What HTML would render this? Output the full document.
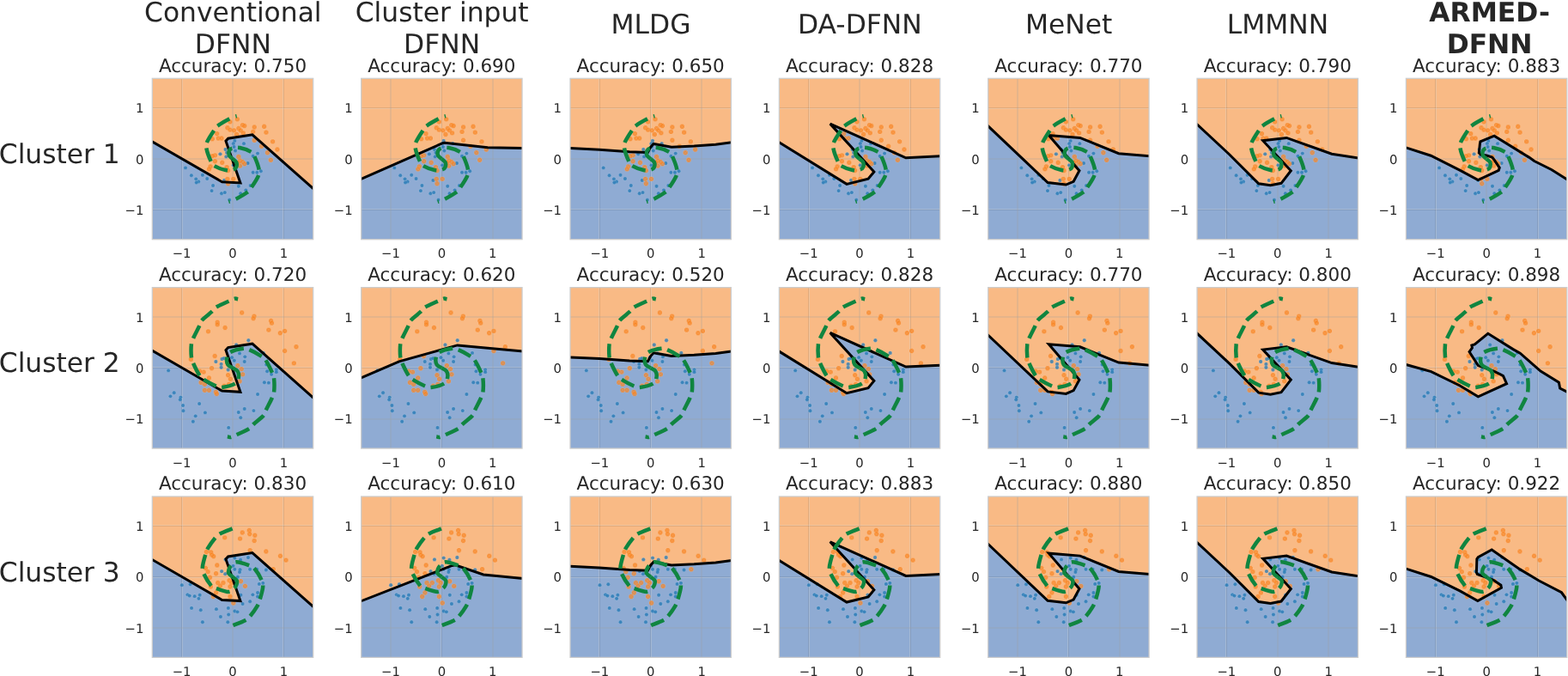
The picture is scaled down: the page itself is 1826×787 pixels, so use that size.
<!DOCTYPE html><html><head><meta charset="utf-8"><title>Decision boundaries</title><style>html,body{margin:0;padding:0;background:#fff;overflow:hidden;}svg{display:block;}.sb{fill:#1f77b4;fill-opacity:.75;stroke:#fff;stroke-opacity:.3;stroke-width:.5}.so{fill:#f8801a;fill-opacity:.7;stroke:#fff;stroke-opacity:.18;stroke-width:.6}text{font-family:"DejaVu Sans","Liberation Sans",sans-serif;fill:#262626;text-rendering:geometricPrecision;}</style></head><body>
<svg width="1826" height="787" viewBox="0 0 1826 787">
<rect width="1826" height="787" fill="#fff"/>
<defs>
<path id="mx" d="M-1.3,-2.7 L1.3,-2.7 L2.7,-1.3 L2.7,1.3 L1.3,2.7 L-1.3,2.7 L-2.7,1.3 L-2.7,-1.3 Z M-2.1,-2.1 L-0.3,-0.3 M2.1,-2.1 L0.3,-0.3 M-2.1,2.1 L-0.3,0.3 M2.1,2.1 L0.3,0.3"/>
<circle id="mo" r="2.2"/>
<clipPath id="k00"><rect x="177.3" y="91.3" width="187.4" height="187.4"/></clipPath>
<clipPath id="k01"><rect x="420.65" y="91.3" width="187.4" height="187.4"/></clipPath>
<clipPath id="k02"><rect x="664" y="91.3" width="187.4" height="187.4"/></clipPath>
<clipPath id="k03"><rect x="907.35" y="91.3" width="187.4" height="187.4"/></clipPath>
<clipPath id="k04"><rect x="1150.7" y="91.3" width="187.4" height="187.4"/></clipPath>
<clipPath id="k05"><rect x="1394.05" y="91.3" width="187.4" height="187.4"/></clipPath>
<clipPath id="k06"><rect x="1637.4" y="91.3" width="187.4" height="187.4"/></clipPath>
<clipPath id="k10"><rect x="177.3" y="334.65" width="187.4" height="187.4"/></clipPath>
<clipPath id="k11"><rect x="420.65" y="334.65" width="187.4" height="187.4"/></clipPath>
<clipPath id="k12"><rect x="664" y="334.65" width="187.4" height="187.4"/></clipPath>
<clipPath id="k13"><rect x="907.35" y="334.65" width="187.4" height="187.4"/></clipPath>
<clipPath id="k14"><rect x="1150.7" y="334.65" width="187.4" height="187.4"/></clipPath>
<clipPath id="k15"><rect x="1394.05" y="334.65" width="187.4" height="187.4"/></clipPath>
<clipPath id="k16"><rect x="1637.4" y="334.65" width="187.4" height="187.4"/></clipPath>
<clipPath id="k20"><rect x="177.3" y="578" width="187.4" height="187.4"/></clipPath>
<clipPath id="k21"><rect x="420.65" y="578" width="187.4" height="187.4"/></clipPath>
<clipPath id="k22"><rect x="664" y="578" width="187.4" height="187.4"/></clipPath>
<clipPath id="k23"><rect x="907.35" y="578" width="187.4" height="187.4"/></clipPath>
<clipPath id="k24"><rect x="1150.7" y="578" width="187.4" height="187.4"/></clipPath>
<clipPath id="k25"><rect x="1394.05" y="578" width="187.4" height="187.4"/></clipPath>
<clipPath id="k26"><rect x="1637.4" y="578" width="187.4" height="187.4"/></clipPath>
</defs>
<text x="271.3" y="25" font-size="31.35" text-anchor="middle">Conventional</text>
<text x="271.3" y="61.9" font-size="31.35" text-anchor="middle">DFNN</text>
<text x="514.65" y="25" font-size="31.35" text-anchor="middle">Cluster input</text>
<text x="514.65" y="61.9" font-size="31.35" text-anchor="middle">DFNN</text>
<text x="758" y="39.1" font-size="31.35" text-anchor="middle">MLDG</text>
<text x="1001.35" y="39.1" font-size="31.35" text-anchor="middle">DA-DFNN</text>
<text x="1244.7" y="39.1" font-size="31.35" text-anchor="middle">MeNet</text>
<text x="1488.05" y="39.1" font-size="31.35" text-anchor="middle">LMMNN</text>
<text x="1734.6" y="25" font-size="31.35" text-anchor="middle" font-weight="bold">ARMED-</text>
<text x="1734.6" y="61.9" font-size="31.35" text-anchor="middle" font-weight="bold">DFNN</text>
<text x="-1.2" y="190.1" font-size="31.3">Cluster 1</text>
<text x="-1.2" y="433.45" font-size="31.3">Cluster 2</text>
<text x="-1.2" y="676.8" font-size="31.3">Cluster 3</text>
<text x="271" y="83.5" font-size="21.5" text-anchor="middle">Accuracy: 0.750</text>
<g clip-path="url(#k00)">
<rect x="177.3" y="91.3" width="187.4" height="187.4" fill="#f9ba85"/>
<polygon points="170.02,160.65 258.53,211.73 279.91,212.92 262.98,164.21 265.65,161.24 293.87,156.84 371.98,225.99 369.7,283.7 172.3,283.7" fill="#8fabd3"/>
<path d="M211.5,91.3V278.7M177.3,244.5H364.7M330.5,91.3V278.7M177.3,125.5H364.7" stroke="#3c3c3c" stroke-opacity="0.12" stroke-width="1" fill="none"/>
<path d="M212.5,91.3V278.7M177.3,243.5H364.7M329.5,91.3V278.7M177.3,126.5H364.7" stroke="#d7d7d7" stroke-opacity="0.3" stroke-width="1" fill="none"/>
<path d="M270.5,91.3V278.7M271.5,91.3V278.7M177.3,184.5H364.7M177.3,185.5H364.7" stroke="#a0a0a0" stroke-opacity="0.22" stroke-width="1" fill="none"/>
<g class="sb"><use href="#mo" x="273.29" y="164.07"/><use href="#mo" x="271.77" y="167.13"/><use href="#mo" x="283.98" y="167.13"/><use href="#mo" x="272.53" y="170.95"/><use href="#mo" x="274.05" y="175.53"/><use href="#mo" x="262.59" y="174"/><use href="#mo" x="256.49" y="179.35"/><use href="#mo" x="264.13" y="177.82"/><use href="#mo" x="263.36" y="182.4"/><use href="#mo" x="300.03" y="178.58"/><use href="#mo" x="294.68" y="181.64"/><use href="#mo" x="288.57" y="190.04"/><use href="#mo" x="271.77" y="192.34"/><use href="#mo" x="294.68" y="200.74"/><use href="#mo" x="299.26" y="200.74"/><use href="#mo" x="303.85" y="199.21"/><use href="#mo" x="216" y="195.39"/><use href="#mo" x="222.87" y="204.25"/><use href="#mo" x="235.86" y="203.79"/><use href="#mo" x="228.22" y="208.37"/><use href="#mo" x="231.28" y="211.43"/><use href="#mo" x="228.68" y="212.5"/><use href="#mo" x="241.21" y="208.07"/><use href="#mo" x="248.08" y="216.01"/><use href="#mo" x="246.56" y="222.12"/><use href="#mo" x="258.02" y="225.18"/><use href="#mo" x="261.83" y="224.11"/><use href="#mo" x="277.87" y="216.78"/><use href="#mo" x="286.28" y="221.36"/><use href="#mo" x="280.17" y="225.18"/><use href="#mo" x="291.62" y="216.01"/><use href="#mo" x="267.18" y="232.82"/><use href="#mo" x="261.07" y="209.9"/></g>
<g class="so"><use href="#mx" x="276.35" y="138.86"/><use href="#mx" x="267.95" y="141.92"/><use href="#mx" x="282.46" y="145.74"/><use href="#mx" x="284.75" y="146.5"/><use href="#mx" x="264.89" y="148.79"/><use href="#mx" x="267.95" y="151.08"/><use href="#mx" x="272.53" y="151.85"/><use href="#mx" x="277.87" y="149.56"/><use href="#mx" x="280.17" y="151.85"/><use href="#mx" x="283.22" y="154.9"/><use href="#mx" x="275.59" y="156.43"/><use href="#mx" x="296.21" y="148.03"/><use href="#mx" x="294.68" y="153.38"/><use href="#mx" x="307.67" y="147.26"/><use href="#mx" x="309.96" y="154.14"/><use href="#mx" x="252.67" y="155.67"/><use href="#mx" x="254.2" y="161.01"/><use href="#mx" x="258.02" y="161.01"/><use href="#mx" x="247.32" y="161.78"/><use href="#mx" x="296.21" y="163.31"/><use href="#mx" x="317.6" y="164.83"/><use href="#mx" x="304.61" y="170.18"/><use href="#mx" x="322.95" y="174"/><use href="#mx" x="311.49" y="177.82"/><use href="#mx" x="315.31" y="186.22"/><use href="#mx" x="250.38" y="180.88"/><use href="#mx" x="277.87" y="182.4"/><use href="#mx" x="279.41" y="186.98"/><use href="#mx" x="282.46" y="188.52"/><use href="#mx" x="284.75" y="190.8"/><use href="#mx" x="250.38" y="187.75"/><use href="#mx" x="258.78" y="189.28"/><use href="#mx" x="245.03" y="193.86"/><use href="#mx" x="243.5" y="196.92"/><use href="#mx" x="264.13" y="194.62"/><use href="#mx" x="265.65" y="198.44"/><use href="#mx" x="279.41" y="193.1"/><use href="#mx" x="277.11" y="189.28"/><use href="#mx" x="264.89" y="208.37"/><use href="#mx" x="271.77" y="208.37"/><use href="#mx" x="265.65" y="213.72"/><use href="#mx" x="247.32" y="181.64"/></g>
<polyline points="170.02,160.65 258.53,211.73 279.91,212.92 262.98,164.21 265.65,161.24 293.87,156.84 371.98,225.99" fill="none" stroke="#000" stroke-width="3" stroke-linejoin="miter"/>
<path d="M271,185 C271.7,185.66 274.51,187.43 275.22,188.98 C275.92,190.53 275.8,192.91 275.22,194.33 C274.63,195.74 273.78,196.87 271.71,197.47 C269.64,198.08 266.53,198.69 262.8,197.95 C259.08,197.21 252.29,194.81 249.38,193.02 C246.47,191.23 246.82,190.53 245.34,187.2 C243.85,183.86 241.14,176.7 240.47,173 C239.8,169.3 239.81,168.56 241.3,164.98 C242.79,161.41 247.28,154.69 249.38,151.56 C251.48,148.43 250.83,148.46 253.89,146.21 C256.95,143.96 264.88,139.5 267.73,138.07 C270.58,136.65 270.46,137.73 271,137.66" fill="none" stroke="#108540" stroke-width="4.5" stroke-dasharray="16.1 6.93"/>
<path d="M271,185 C270.3,184.34 267.49,182.57 266.78,181.02 C266.08,179.47 266.2,177.09 266.78,175.67 C267.37,174.26 268.22,173.13 270.29,172.53 C272.36,171.92 275.47,171.31 279.2,172.05 C282.92,172.79 289.71,175.19 292.62,176.98 C295.53,178.77 295.18,179.47 296.66,182.8 C298.15,186.14 300.86,193.3 301.53,197 C302.2,200.7 302.19,201.44 300.7,205.02 C299.21,208.59 294.72,215.31 292.62,218.44 C290.52,221.57 291.17,221.54 288.11,223.79 C285.05,226.04 277.12,230.5 274.27,231.93 C271.42,233.35 271.54,232.27 271,232.34" fill="none" stroke="#108540" stroke-width="4.5" stroke-dasharray="16.1 6.93"/>
<line x1="275.51" y1="137.3" x2="274.5" y2="133.2" stroke="#108540" stroke-width="1.4"/>
<line x1="266.49" y1="232.7" x2="267.5" y2="236.8" stroke="#108540" stroke-width="1.4"/>
</g>
<rect x="177.3" y="91.3" width="187.4" height="187.4" fill="none" stroke="#cccccc" stroke-width="1.25"/>
<text x="211.6" y="300.2" font-size="14.8" text-anchor="middle">−1</text>
<text x="167.3" y="250.1" font-size="14.8" text-anchor="end">−1</text>
<text x="271" y="300.2" font-size="14.8" text-anchor="middle">0</text>
<text x="167.3" y="190.7" font-size="14.8" text-anchor="end">0</text>
<text x="330.4" y="300.2" font-size="14.8" text-anchor="middle">1</text>
<text x="167.3" y="131.3" font-size="14.8" text-anchor="end">1</text>
<text x="514.35" y="83.5" font-size="21.5" text-anchor="middle">Accuracy: 0.690</text>
<g clip-path="url(#k01)">
<rect x="420.65" y="91.3" width="187.4" height="187.4" fill="#f9ba85"/>
<polygon points="413.37,211.43 515.36,166.7 517.85,166.23 567.99,171.69 615.33,172.64 613.05,283.7 415.65,283.7" fill="#8fabd3"/>
<path d="M420.65,244.5H608.05M514.5,91.3V278.7M420.65,125.5H608.05" stroke="#3c3c3c" stroke-opacity="0.12" stroke-width="1" fill="none"/>
<path d="M420.65,243.5H608.05M513.5,91.3V278.7M420.65,126.5H608.05" stroke="#d7d7d7" stroke-opacity="0.3" stroke-width="1" fill="none"/>
<path d="M454.5,91.3V278.7M455.5,91.3V278.7M420.65,184.5H608.05M420.65,185.5H608.05M573.5,91.3V278.7M574.5,91.3V278.7" stroke="#a0a0a0" stroke-opacity="0.22" stroke-width="1" fill="none"/>
<g class="sb"><use href="#mo" x="516.64" y="164.07"/><use href="#mo" x="515.12" y="167.13"/><use href="#mo" x="527.33" y="167.13"/><use href="#mo" x="515.88" y="170.95"/><use href="#mo" x="517.4" y="175.53"/><use href="#mo" x="505.94" y="174"/><use href="#mo" x="499.84" y="179.35"/><use href="#mo" x="507.48" y="177.82"/><use href="#mo" x="506.71" y="182.4"/><use href="#mo" x="543.38" y="178.58"/><use href="#mo" x="538.03" y="181.64"/><use href="#mo" x="531.92" y="190.04"/><use href="#mo" x="515.12" y="192.34"/><use href="#mo" x="538.03" y="200.74"/><use href="#mo" x="542.61" y="200.74"/><use href="#mo" x="547.2" y="199.21"/><use href="#mo" x="459.35" y="195.39"/><use href="#mo" x="466.22" y="204.25"/><use href="#mo" x="479.21" y="203.79"/><use href="#mo" x="471.57" y="208.37"/><use href="#mo" x="474.63" y="211.43"/><use href="#mo" x="472.03" y="212.5"/><use href="#mo" x="484.56" y="208.07"/><use href="#mo" x="491.43" y="216.01"/><use href="#mo" x="489.91" y="222.12"/><use href="#mo" x="501.37" y="225.18"/><use href="#mo" x="505.18" y="224.11"/><use href="#mo" x="521.22" y="216.78"/><use href="#mo" x="529.63" y="221.36"/><use href="#mo" x="523.52" y="225.18"/><use href="#mo" x="534.97" y="216.01"/><use href="#mo" x="510.53" y="232.82"/><use href="#mo" x="504.42" y="209.9"/></g>
<g class="so"><use href="#mx" x="519.7" y="138.86"/><use href="#mx" x="511.3" y="141.92"/><use href="#mx" x="525.81" y="145.74"/><use href="#mx" x="528.1" y="146.5"/><use href="#mx" x="508.24" y="148.79"/><use href="#mx" x="511.3" y="151.08"/><use href="#mx" x="515.88" y="151.85"/><use href="#mx" x="521.22" y="149.56"/><use href="#mx" x="523.52" y="151.85"/><use href="#mx" x="526.57" y="154.9"/><use href="#mx" x="518.94" y="156.43"/><use href="#mx" x="539.56" y="148.03"/><use href="#mx" x="538.03" y="153.38"/><use href="#mx" x="551.02" y="147.26"/><use href="#mx" x="553.31" y="154.14"/><use href="#mx" x="496.02" y="155.67"/><use href="#mx" x="497.55" y="161.01"/><use href="#mx" x="501.37" y="161.01"/><use href="#mx" x="490.67" y="161.78"/><use href="#mx" x="539.56" y="163.31"/><use href="#mx" x="560.95" y="164.83"/><use href="#mx" x="547.96" y="170.18"/><use href="#mx" x="566.3" y="174"/><use href="#mx" x="554.84" y="177.82"/><use href="#mx" x="558.66" y="186.22"/><use href="#mx" x="493.73" y="180.88"/><use href="#mx" x="521.22" y="182.4"/><use href="#mx" x="522.76" y="186.98"/><use href="#mx" x="525.81" y="188.52"/><use href="#mx" x="528.1" y="190.8"/><use href="#mx" x="493.73" y="187.75"/><use href="#mx" x="502.13" y="189.28"/><use href="#mx" x="488.38" y="193.86"/><use href="#mx" x="486.85" y="196.92"/><use href="#mx" x="507.48" y="194.62"/><use href="#mx" x="509" y="198.44"/><use href="#mx" x="522.76" y="193.1"/><use href="#mx" x="520.46" y="189.28"/><use href="#mx" x="508.24" y="208.37"/><use href="#mx" x="515.12" y="208.37"/><use href="#mx" x="509" y="213.72"/><use href="#mx" x="490.67" y="181.64"/></g>
<polyline points="413.37,211.43 515.36,166.7 517.85,166.23 567.99,171.69 615.33,172.64" fill="none" stroke="#000" stroke-width="3" stroke-linejoin="miter"/>
<path d="M514.35,185 C515.05,185.66 517.86,187.43 518.57,188.98 C519.27,190.53 519.15,192.91 518.57,194.33 C517.98,195.74 517.13,196.87 515.06,197.47 C512.99,198.08 509.88,198.69 506.15,197.95 C502.43,197.21 495.64,194.81 492.73,193.02 C489.82,191.23 490.17,190.53 488.69,187.2 C487.2,183.86 484.49,176.7 483.82,173 C483.15,169.3 483.17,168.56 484.65,164.98 C486.14,161.41 490.63,154.69 492.73,151.56 C494.83,148.43 494.18,148.46 497.24,146.21 C500.3,143.96 508.23,139.5 511.08,138.07 C513.93,136.65 513.81,137.73 514.35,137.66" fill="none" stroke="#108540" stroke-width="4.5" stroke-dasharray="16.1 6.93"/>
<path d="M514.35,185 C513.65,184.34 510.84,182.57 510.13,181.02 C509.43,179.47 509.55,177.09 510.13,175.67 C510.72,174.26 511.57,173.13 513.64,172.53 C515.71,171.92 518.82,171.31 522.55,172.05 C526.27,172.79 533.06,175.19 535.97,176.98 C538.88,178.77 538.53,179.47 540.01,182.8 C541.5,186.14 544.21,193.3 544.88,197 C545.55,200.7 545.54,201.44 544.05,205.02 C542.57,208.59 538.07,215.31 535.97,218.44 C533.87,221.57 534.52,221.54 531.46,223.79 C528.4,226.04 520.47,230.5 517.62,231.93 C514.77,233.35 514.89,232.27 514.35,232.34" fill="none" stroke="#108540" stroke-width="4.5" stroke-dasharray="16.1 6.93"/>
<line x1="518.86" y1="137.3" x2="517.85" y2="133.2" stroke="#108540" stroke-width="1.4"/>
<line x1="509.84" y1="232.7" x2="510.85" y2="236.8" stroke="#108540" stroke-width="1.4"/>
</g>
<rect x="420.65" y="91.3" width="187.4" height="187.4" fill="none" stroke="#cccccc" stroke-width="1.25"/>
<text x="454.95" y="300.2" font-size="14.8" text-anchor="middle">−1</text>
<text x="410.65" y="250.1" font-size="14.8" text-anchor="end">−1</text>
<text x="514.35" y="300.2" font-size="14.8" text-anchor="middle">0</text>
<text x="410.65" y="190.7" font-size="14.8" text-anchor="end">0</text>
<text x="573.75" y="300.2" font-size="14.8" text-anchor="middle">1</text>
<text x="410.65" y="131.3" font-size="14.8" text-anchor="end">1</text>
<text x="757.7" y="83.5" font-size="21.5" text-anchor="middle">Accuracy: 0.650</text>
<g clip-path="url(#k02)">
<rect x="664" y="91.3" width="187.4" height="187.4" fill="#f9ba85"/>
<polygon points="656.72,172.23 698.06,174.25 733.11,176.74 754.43,177.46 757.7,171.22 761.2,167.48 768.21,168.72 781.99,171.22 808.31,169.97 833.38,168.19 858.68,164.8 856.4,283.7 659,283.7" fill="#8fabd3"/>
<path d="M698.5,91.3V278.7M664,244.5H851.4M757.5,91.3V278.7M664,125.5H851.4" stroke="#3c3c3c" stroke-opacity="0.12" stroke-width="1" fill="none"/>
<path d="M697.5,91.3V278.7M664,243.5H851.4M758.5,91.3V278.7M664,126.5H851.4" stroke="#d7d7d7" stroke-opacity="0.3" stroke-width="1" fill="none"/>
<path d="M664,184.5H851.4M664,185.5H851.4M816.5,91.3V278.7M817.5,91.3V278.7" stroke="#a0a0a0" stroke-opacity="0.22" stroke-width="1" fill="none"/>
<g class="sb"><use href="#mo" x="759.99" y="164.07"/><use href="#mo" x="758.47" y="167.13"/><use href="#mo" x="770.68" y="167.13"/><use href="#mo" x="759.23" y="170.95"/><use href="#mo" x="760.75" y="175.53"/><use href="#mo" x="749.29" y="174"/><use href="#mo" x="743.19" y="179.35"/><use href="#mo" x="750.83" y="177.82"/><use href="#mo" x="750.06" y="182.4"/><use href="#mo" x="786.73" y="178.58"/><use href="#mo" x="781.38" y="181.64"/><use href="#mo" x="775.27" y="190.04"/><use href="#mo" x="758.47" y="192.34"/><use href="#mo" x="781.38" y="200.74"/><use href="#mo" x="785.96" y="200.74"/><use href="#mo" x="790.55" y="199.21"/><use href="#mo" x="702.7" y="195.39"/><use href="#mo" x="709.57" y="204.25"/><use href="#mo" x="722.56" y="203.79"/><use href="#mo" x="714.92" y="208.37"/><use href="#mo" x="717.98" y="211.43"/><use href="#mo" x="715.38" y="212.5"/><use href="#mo" x="727.91" y="208.07"/><use href="#mo" x="734.78" y="216.01"/><use href="#mo" x="733.26" y="222.12"/><use href="#mo" x="744.72" y="225.18"/><use href="#mo" x="748.53" y="224.11"/><use href="#mo" x="764.57" y="216.78"/><use href="#mo" x="772.98" y="221.36"/><use href="#mo" x="766.87" y="225.18"/><use href="#mo" x="778.32" y="216.01"/><use href="#mo" x="753.88" y="232.82"/><use href="#mo" x="747.77" y="209.9"/></g>
<g class="so"><use href="#mx" x="763.05" y="138.86"/><use href="#mx" x="754.65" y="141.92"/><use href="#mx" x="769.16" y="145.74"/><use href="#mx" x="771.45" y="146.5"/><use href="#mx" x="751.59" y="148.79"/><use href="#mx" x="754.65" y="151.08"/><use href="#mx" x="759.23" y="151.85"/><use href="#mx" x="764.57" y="149.56"/><use href="#mx" x="766.87" y="151.85"/><use href="#mx" x="769.92" y="154.9"/><use href="#mx" x="762.29" y="156.43"/><use href="#mx" x="782.91" y="148.03"/><use href="#mx" x="781.38" y="153.38"/><use href="#mx" x="794.37" y="147.26"/><use href="#mx" x="796.66" y="154.14"/><use href="#mx" x="739.37" y="155.67"/><use href="#mx" x="740.9" y="161.01"/><use href="#mx" x="744.72" y="161.01"/><use href="#mx" x="734.02" y="161.78"/><use href="#mx" x="782.91" y="163.31"/><use href="#mx" x="804.3" y="164.83"/><use href="#mx" x="791.31" y="170.18"/><use href="#mx" x="809.65" y="174"/><use href="#mx" x="798.19" y="177.82"/><use href="#mx" x="802.01" y="186.22"/><use href="#mx" x="737.08" y="180.88"/><use href="#mx" x="764.57" y="182.4"/><use href="#mx" x="766.11" y="186.98"/><use href="#mx" x="769.16" y="188.52"/><use href="#mx" x="771.45" y="190.8"/><use href="#mx" x="737.08" y="187.75"/><use href="#mx" x="745.48" y="189.28"/><use href="#mx" x="731.73" y="193.86"/><use href="#mx" x="730.2" y="196.92"/><use href="#mx" x="750.83" y="194.62"/><use href="#mx" x="752.35" y="198.44"/><use href="#mx" x="766.11" y="193.1"/><use href="#mx" x="763.81" y="189.28"/><use href="#mx" x="751.59" y="208.37"/><use href="#mx" x="758.47" y="208.37"/><use href="#mx" x="752.35" y="213.72"/><use href="#mx" x="734.02" y="181.64"/></g>
<polyline points="656.72,172.23 698.06,174.25 733.11,176.74 754.43,177.46 757.7,171.22 761.2,167.48 768.21,168.72 781.99,171.22 808.31,169.97 833.38,168.19 858.68,164.8" fill="none" stroke="#000" stroke-width="3" stroke-linejoin="miter"/>
<path d="M757.7,185 C758.4,185.66 761.21,187.43 761.92,188.98 C762.62,190.53 762.5,192.91 761.92,194.33 C761.33,195.74 760.48,196.87 758.41,197.47 C756.34,198.08 753.23,198.69 749.5,197.95 C745.78,197.21 738.99,194.81 736.08,193.02 C733.17,191.23 733.52,190.53 732.04,187.2 C730.55,183.86 727.84,176.7 727.17,173 C726.5,169.3 726.51,168.56 728,164.98 C729.49,161.41 733.98,154.69 736.08,151.56 C738.18,148.43 737.53,148.46 740.59,146.21 C743.65,143.96 751.58,139.5 754.43,138.07 C757.28,136.65 757.16,137.73 757.7,137.66" fill="none" stroke="#108540" stroke-width="4.5" stroke-dasharray="16.1 6.93"/>
<path d="M757.7,185 C757,184.34 754.19,182.57 753.48,181.02 C752.78,179.47 752.9,177.09 753.48,175.67 C754.07,174.26 754.92,173.13 756.99,172.53 C759.06,171.92 762.17,171.31 765.9,172.05 C769.62,172.79 776.41,175.19 779.32,176.98 C782.23,178.77 781.88,179.47 783.36,182.8 C784.85,186.14 787.56,193.3 788.23,197 C788.9,200.7 788.89,201.44 787.4,205.02 C785.92,208.59 781.42,215.31 779.32,218.44 C777.22,221.57 777.87,221.54 774.81,223.79 C771.75,226.04 763.82,230.5 760.97,231.93 C758.12,233.35 758.24,232.27 757.7,232.34" fill="none" stroke="#108540" stroke-width="4.5" stroke-dasharray="16.1 6.93"/>
<line x1="762.21" y1="137.3" x2="761.2" y2="133.2" stroke="#108540" stroke-width="1.4"/>
<line x1="753.19" y1="232.7" x2="754.2" y2="236.8" stroke="#108540" stroke-width="1.4"/>
</g>
<rect x="664" y="91.3" width="187.4" height="187.4" fill="none" stroke="#cccccc" stroke-width="1.25"/>
<text x="698.3" y="300.2" font-size="14.8" text-anchor="middle">−1</text>
<text x="654" y="250.1" font-size="14.8" text-anchor="end">−1</text>
<text x="757.7" y="300.2" font-size="14.8" text-anchor="middle">0</text>
<text x="654" y="190.7" font-size="14.8" text-anchor="end">0</text>
<text x="817.1" y="300.2" font-size="14.8" text-anchor="middle">1</text>
<text x="654" y="131.3" font-size="14.8" text-anchor="end">1</text>
<text x="1001.05" y="83.5" font-size="21.5" text-anchor="middle">Accuracy: 0.828</text>
<g clip-path="url(#k03)">
<rect x="907.35" y="91.3" width="187.4" height="187.4" fill="#f9ba85"/>
<polygon points="900.07,161.24 986.02,214.34 1011.09,208.28 1017.86,200.03 966.72,144.13 1054.93,183.75 1102.03,181.44 1099.75,283.7 902.35,283.7" fill="#8fabd3"/>
<path d="M941.5,91.3V278.7M907.35,244.5H1094.75M1060.5,91.3V278.7M907.35,125.5H1094.75" stroke="#3c3c3c" stroke-opacity="0.12" stroke-width="1" fill="none"/>
<path d="M942.5,91.3V278.7M907.35,243.5H1094.75M1059.5,91.3V278.7M907.35,126.5H1094.75" stroke="#d7d7d7" stroke-opacity="0.3" stroke-width="1" fill="none"/>
<path d="M1000.5,91.3V278.7M1001.5,91.3V278.7M907.35,184.5H1094.75M907.35,185.5H1094.75" stroke="#a0a0a0" stroke-opacity="0.22" stroke-width="1" fill="none"/>
<g class="sb"><use href="#mo" x="1003.34" y="164.07"/><use href="#mo" x="1001.82" y="167.13"/><use href="#mo" x="1014.03" y="167.13"/><use href="#mo" x="1002.58" y="170.95"/><use href="#mo" x="1004.1" y="175.53"/><use href="#mo" x="992.64" y="174"/><use href="#mo" x="986.54" y="179.35"/><use href="#mo" x="994.18" y="177.82"/><use href="#mo" x="993.41" y="182.4"/><use href="#mo" x="1030.08" y="178.58"/><use href="#mo" x="1024.73" y="181.64"/><use href="#mo" x="1018.62" y="190.04"/><use href="#mo" x="1001.82" y="192.34"/><use href="#mo" x="1024.73" y="200.74"/><use href="#mo" x="1029.31" y="200.74"/><use href="#mo" x="1033.9" y="199.21"/><use href="#mo" x="946.05" y="195.39"/><use href="#mo" x="952.92" y="204.25"/><use href="#mo" x="965.91" y="203.79"/><use href="#mo" x="958.27" y="208.37"/><use href="#mo" x="961.33" y="211.43"/><use href="#mo" x="958.73" y="212.5"/><use href="#mo" x="971.26" y="208.07"/><use href="#mo" x="978.13" y="216.01"/><use href="#mo" x="976.61" y="222.12"/><use href="#mo" x="988.07" y="225.18"/><use href="#mo" x="991.88" y="224.11"/><use href="#mo" x="1007.92" y="216.78"/><use href="#mo" x="1016.33" y="221.36"/><use href="#mo" x="1010.22" y="225.18"/><use href="#mo" x="1021.67" y="216.01"/><use href="#mo" x="997.23" y="232.82"/><use href="#mo" x="991.12" y="209.9"/></g>
<g class="so"><use href="#mx" x="1006.4" y="138.86"/><use href="#mx" x="998" y="141.92"/><use href="#mx" x="1012.51" y="145.74"/><use href="#mx" x="1014.8" y="146.5"/><use href="#mx" x="994.94" y="148.79"/><use href="#mx" x="998" y="151.08"/><use href="#mx" x="1002.58" y="151.85"/><use href="#mx" x="1007.92" y="149.56"/><use href="#mx" x="1010.22" y="151.85"/><use href="#mx" x="1013.27" y="154.9"/><use href="#mx" x="1005.64" y="156.43"/><use href="#mx" x="1026.26" y="148.03"/><use href="#mx" x="1024.73" y="153.38"/><use href="#mx" x="1037.72" y="147.26"/><use href="#mx" x="1040.01" y="154.14"/><use href="#mx" x="982.72" y="155.67"/><use href="#mx" x="984.25" y="161.01"/><use href="#mx" x="988.07" y="161.01"/><use href="#mx" x="977.37" y="161.78"/><use href="#mx" x="1026.26" y="163.31"/><use href="#mx" x="1047.65" y="164.83"/><use href="#mx" x="1034.66" y="170.18"/><use href="#mx" x="1053" y="174"/><use href="#mx" x="1041.54" y="177.82"/><use href="#mx" x="1045.36" y="186.22"/><use href="#mx" x="980.43" y="180.88"/><use href="#mx" x="1007.92" y="182.4"/><use href="#mx" x="1009.46" y="186.98"/><use href="#mx" x="1012.51" y="188.52"/><use href="#mx" x="1014.8" y="190.8"/><use href="#mx" x="980.43" y="187.75"/><use href="#mx" x="988.83" y="189.28"/><use href="#mx" x="975.08" y="193.86"/><use href="#mx" x="973.55" y="196.92"/><use href="#mx" x="994.18" y="194.62"/><use href="#mx" x="995.7" y="198.44"/><use href="#mx" x="1009.46" y="193.1"/><use href="#mx" x="1007.16" y="189.28"/><use href="#mx" x="994.94" y="208.37"/><use href="#mx" x="1001.82" y="208.37"/><use href="#mx" x="995.7" y="213.72"/><use href="#mx" x="977.37" y="181.64"/></g>
<polyline points="900.07,161.24 986.02,214.34 1011.09,208.28 1017.86,200.03 966.72,144.13 1054.93,183.75 1102.03,181.44" fill="none" stroke="#000" stroke-width="3" stroke-linejoin="miter"/>
<path d="M1001.05,185 C1001.75,185.66 1004.56,187.43 1005.27,188.98 C1005.97,190.53 1005.85,192.91 1005.27,194.33 C1004.68,195.74 1003.83,196.87 1001.76,197.47 C999.69,198.08 996.58,198.69 992.85,197.95 C989.13,197.21 982.34,194.81 979.43,193.02 C976.52,191.23 976.87,190.53 975.39,187.2 C973.9,183.86 971.19,176.7 970.52,173 C969.85,169.3 969.86,168.56 971.35,164.98 C972.83,161.41 977.33,154.69 979.43,151.56 C981.53,148.43 980.88,148.46 983.94,146.21 C987,143.96 994.93,139.5 997.78,138.07 C1000.63,136.65 1000.51,137.73 1001.05,137.66" fill="none" stroke="#108540" stroke-width="4.5" stroke-dasharray="16.1 6.93"/>
<path d="M1001.05,185 C1000.35,184.34 997.54,182.57 996.83,181.02 C996.13,179.47 996.25,177.09 996.83,175.67 C997.42,174.26 998.27,173.13 1000.34,172.53 C1002.41,171.92 1005.52,171.31 1009.25,172.05 C1012.97,172.79 1019.76,175.19 1022.67,176.98 C1025.58,178.77 1025.23,179.47 1026.71,182.8 C1028.2,186.14 1030.91,193.3 1031.58,197 C1032.25,200.7 1032.24,201.44 1030.75,205.02 C1029.26,208.59 1024.77,215.31 1022.67,218.44 C1020.57,221.57 1021.22,221.54 1018.16,223.79 C1015.1,226.04 1007.17,230.5 1004.32,231.93 C1001.47,233.35 1001.59,232.27 1001.05,232.34" fill="none" stroke="#108540" stroke-width="4.5" stroke-dasharray="16.1 6.93"/>
<line x1="1005.56" y1="137.3" x2="1004.55" y2="133.2" stroke="#108540" stroke-width="1.4"/>
<line x1="996.54" y1="232.7" x2="997.55" y2="236.8" stroke="#108540" stroke-width="1.4"/>
</g>
<rect x="907.35" y="91.3" width="187.4" height="187.4" fill="none" stroke="#cccccc" stroke-width="1.25"/>
<text x="941.65" y="300.2" font-size="14.8" text-anchor="middle">−1</text>
<text x="897.35" y="250.1" font-size="14.8" text-anchor="end">−1</text>
<text x="1001.05" y="300.2" font-size="14.8" text-anchor="middle">0</text>
<text x="897.35" y="190.7" font-size="14.8" text-anchor="end">0</text>
<text x="1060.45" y="300.2" font-size="14.8" text-anchor="middle">1</text>
<text x="897.35" y="131.3" font-size="14.8" text-anchor="end">1</text>
<text x="1244.4" y="83.5" font-size="21.5" text-anchor="middle">Accuracy: 0.770</text>
<g clip-path="url(#k04)">
<rect x="1150.7" y="91.3" width="187.4" height="187.4" fill="#f9ba85"/>
<polygon points="1143.42,139.86 1220.11,212.56 1241.37,215.06 1250.16,211.31 1256.93,198.78 1221.35,157.44 1257.71,160.41 1302.79,178.76 1345.38,182.33 1343.1,283.7 1145.7,283.7" fill="#8fabd3"/>
<path d="M1150.7,244.5H1338.1M1244.5,91.3V278.7M1150.7,125.5H1338.1" stroke="#3c3c3c" stroke-opacity="0.12" stroke-width="1" fill="none"/>
<path d="M1150.7,243.5H1338.1M1243.5,91.3V278.7M1150.7,126.5H1338.1" stroke="#d7d7d7" stroke-opacity="0.3" stroke-width="1" fill="none"/>
<path d="M1184.5,91.3V278.7M1185.5,91.3V278.7M1150.7,184.5H1338.1M1150.7,185.5H1338.1M1303.5,91.3V278.7M1304.5,91.3V278.7" stroke="#a0a0a0" stroke-opacity="0.22" stroke-width="1" fill="none"/>
<g class="sb"><use href="#mo" x="1246.69" y="164.07"/><use href="#mo" x="1245.17" y="167.13"/><use href="#mo" x="1257.38" y="167.13"/><use href="#mo" x="1245.93" y="170.95"/><use href="#mo" x="1247.45" y="175.53"/><use href="#mo" x="1235.99" y="174"/><use href="#mo" x="1229.89" y="179.35"/><use href="#mo" x="1237.53" y="177.82"/><use href="#mo" x="1236.76" y="182.4"/><use href="#mo" x="1273.43" y="178.58"/><use href="#mo" x="1268.08" y="181.64"/><use href="#mo" x="1261.97" y="190.04"/><use href="#mo" x="1245.17" y="192.34"/><use href="#mo" x="1268.08" y="200.74"/><use href="#mo" x="1272.66" y="200.74"/><use href="#mo" x="1277.25" y="199.21"/><use href="#mo" x="1189.4" y="195.39"/><use href="#mo" x="1196.27" y="204.25"/><use href="#mo" x="1209.26" y="203.79"/><use href="#mo" x="1201.62" y="208.37"/><use href="#mo" x="1204.68" y="211.43"/><use href="#mo" x="1202.08" y="212.5"/><use href="#mo" x="1214.61" y="208.07"/><use href="#mo" x="1221.48" y="216.01"/><use href="#mo" x="1219.96" y="222.12"/><use href="#mo" x="1231.42" y="225.18"/><use href="#mo" x="1235.23" y="224.11"/><use href="#mo" x="1251.27" y="216.78"/><use href="#mo" x="1259.68" y="221.36"/><use href="#mo" x="1253.57" y="225.18"/><use href="#mo" x="1265.02" y="216.01"/><use href="#mo" x="1240.58" y="232.82"/><use href="#mo" x="1234.47" y="209.9"/></g>
<g class="so"><use href="#mx" x="1249.75" y="138.86"/><use href="#mx" x="1241.35" y="141.92"/><use href="#mx" x="1255.86" y="145.74"/><use href="#mx" x="1258.15" y="146.5"/><use href="#mx" x="1238.29" y="148.79"/><use href="#mx" x="1241.35" y="151.08"/><use href="#mx" x="1245.93" y="151.85"/><use href="#mx" x="1251.27" y="149.56"/><use href="#mx" x="1253.57" y="151.85"/><use href="#mx" x="1256.62" y="154.9"/><use href="#mx" x="1248.99" y="156.43"/><use href="#mx" x="1269.61" y="148.03"/><use href="#mx" x="1268.08" y="153.38"/><use href="#mx" x="1281.07" y="147.26"/><use href="#mx" x="1283.36" y="154.14"/><use href="#mx" x="1226.07" y="155.67"/><use href="#mx" x="1227.6" y="161.01"/><use href="#mx" x="1231.42" y="161.01"/><use href="#mx" x="1220.72" y="161.78"/><use href="#mx" x="1269.61" y="163.31"/><use href="#mx" x="1291" y="164.83"/><use href="#mx" x="1278.01" y="170.18"/><use href="#mx" x="1296.35" y="174"/><use href="#mx" x="1284.89" y="177.82"/><use href="#mx" x="1288.71" y="186.22"/><use href="#mx" x="1223.78" y="180.88"/><use href="#mx" x="1251.27" y="182.4"/><use href="#mx" x="1252.81" y="186.98"/><use href="#mx" x="1255.86" y="188.52"/><use href="#mx" x="1258.15" y="190.8"/><use href="#mx" x="1223.78" y="187.75"/><use href="#mx" x="1232.18" y="189.28"/><use href="#mx" x="1218.43" y="193.86"/><use href="#mx" x="1216.9" y="196.92"/><use href="#mx" x="1237.53" y="194.62"/><use href="#mx" x="1239.05" y="198.44"/><use href="#mx" x="1252.81" y="193.1"/><use href="#mx" x="1250.51" y="189.28"/><use href="#mx" x="1238.29" y="208.37"/><use href="#mx" x="1245.17" y="208.37"/><use href="#mx" x="1239.05" y="213.72"/><use href="#mx" x="1220.72" y="181.64"/></g>
<polyline points="1143.42,139.86 1220.11,212.56 1241.37,215.06 1250.16,211.31 1256.93,198.78 1221.35,157.44 1257.71,160.41 1302.79,178.76 1345.38,182.33" fill="none" stroke="#000" stroke-width="3" stroke-linejoin="miter"/>
<path d="M1244.4,185 C1245.1,185.66 1247.91,187.43 1248.62,188.98 C1249.32,190.53 1249.2,192.91 1248.62,194.33 C1248.03,195.74 1247.18,196.87 1245.11,197.47 C1243.04,198.08 1239.93,198.69 1236.2,197.95 C1232.48,197.21 1225.69,194.81 1222.78,193.02 C1219.87,191.23 1220.22,190.53 1218.74,187.2 C1217.25,183.86 1214.54,176.7 1213.87,173 C1213.2,169.3 1213.22,168.56 1214.7,164.98 C1216.18,161.41 1220.68,154.69 1222.78,151.56 C1224.88,148.43 1224.23,148.46 1227.29,146.21 C1230.35,143.96 1238.28,139.5 1241.13,138.07 C1243.98,136.65 1243.86,137.73 1244.4,137.66" fill="none" stroke="#108540" stroke-width="4.5" stroke-dasharray="16.1 6.93"/>
<path d="M1244.4,185 C1243.7,184.34 1240.89,182.57 1240.18,181.02 C1239.48,179.47 1239.6,177.09 1240.18,175.67 C1240.77,174.26 1241.62,173.13 1243.69,172.53 C1245.76,171.92 1248.87,171.31 1252.6,172.05 C1256.32,172.79 1263.11,175.19 1266.02,176.98 C1268.93,178.77 1268.58,179.47 1270.06,182.8 C1271.55,186.14 1274.26,193.3 1274.93,197 C1275.6,200.7 1275.59,201.44 1274.1,205.02 C1272.62,208.59 1268.12,215.31 1266.02,218.44 C1263.92,221.57 1264.57,221.54 1261.51,223.79 C1258.45,226.04 1250.52,230.5 1247.67,231.93 C1244.82,233.35 1244.94,232.27 1244.4,232.34" fill="none" stroke="#108540" stroke-width="4.5" stroke-dasharray="16.1 6.93"/>
<line x1="1248.91" y1="137.3" x2="1247.9" y2="133.2" stroke="#108540" stroke-width="1.4"/>
<line x1="1239.89" y1="232.7" x2="1240.9" y2="236.8" stroke="#108540" stroke-width="1.4"/>
</g>
<rect x="1150.7" y="91.3" width="187.4" height="187.4" fill="none" stroke="#cccccc" stroke-width="1.25"/>
<text x="1185" y="300.2" font-size="14.8" text-anchor="middle">−1</text>
<text x="1140.7" y="250.1" font-size="14.8" text-anchor="end">−1</text>
<text x="1244.4" y="300.2" font-size="14.8" text-anchor="middle">0</text>
<text x="1140.7" y="190.7" font-size="14.8" text-anchor="end">0</text>
<text x="1303.8" y="300.2" font-size="14.8" text-anchor="middle">1</text>
<text x="1140.7" y="131.3" font-size="14.8" text-anchor="end">1</text>
<text x="1487.75" y="83.5" font-size="21.5" text-anchor="middle">Accuracy: 0.790</text>
<g clip-path="url(#k05)">
<rect x="1394.05" y="91.3" width="187.4" height="187.4" fill="#f9ba85"/>
<polygon points="1386.77,138.07 1431.85,180.01 1465.71,213.81 1479.49,215.83 1492.03,213.33 1503.31,198.78 1470.7,163.68 1498.26,160.41 1550.89,179.24 1588.73,185 1586.45,283.7 1389.05,283.7" fill="#8fabd3"/>
<path d="M1428.5,91.3V278.7M1394.05,244.5H1581.45M1394.05,125.5H1581.45" stroke="#3c3c3c" stroke-opacity="0.12" stroke-width="1" fill="none"/>
<path d="M1427.5,91.3V278.7M1394.05,243.5H1581.45M1394.05,126.5H1581.45" stroke="#d7d7d7" stroke-opacity="0.3" stroke-width="1" fill="none"/>
<path d="M1487.5,91.3V278.7M1488.5,91.3V278.7M1394.05,184.5H1581.45M1394.05,185.5H1581.45M1546.5,91.3V278.7M1547.5,91.3V278.7" stroke="#a0a0a0" stroke-opacity="0.22" stroke-width="1" fill="none"/>
<g class="sb"><use href="#mo" x="1490.04" y="164.07"/><use href="#mo" x="1488.52" y="167.13"/><use href="#mo" x="1500.73" y="167.13"/><use href="#mo" x="1489.28" y="170.95"/><use href="#mo" x="1490.8" y="175.53"/><use href="#mo" x="1479.34" y="174"/><use href="#mo" x="1473.24" y="179.35"/><use href="#mo" x="1480.88" y="177.82"/><use href="#mo" x="1480.11" y="182.4"/><use href="#mo" x="1516.78" y="178.58"/><use href="#mo" x="1511.43" y="181.64"/><use href="#mo" x="1505.32" y="190.04"/><use href="#mo" x="1488.52" y="192.34"/><use href="#mo" x="1511.43" y="200.74"/><use href="#mo" x="1516.01" y="200.74"/><use href="#mo" x="1520.6" y="199.21"/><use href="#mo" x="1432.75" y="195.39"/><use href="#mo" x="1439.62" y="204.25"/><use href="#mo" x="1452.61" y="203.79"/><use href="#mo" x="1444.97" y="208.37"/><use href="#mo" x="1448.03" y="211.43"/><use href="#mo" x="1445.43" y="212.5"/><use href="#mo" x="1457.96" y="208.07"/><use href="#mo" x="1464.83" y="216.01"/><use href="#mo" x="1463.31" y="222.12"/><use href="#mo" x="1474.77" y="225.18"/><use href="#mo" x="1478.58" y="224.11"/><use href="#mo" x="1494.62" y="216.78"/><use href="#mo" x="1503.03" y="221.36"/><use href="#mo" x="1496.92" y="225.18"/><use href="#mo" x="1508.37" y="216.01"/><use href="#mo" x="1483.93" y="232.82"/><use href="#mo" x="1477.82" y="209.9"/></g>
<g class="so"><use href="#mx" x="1493.1" y="138.86"/><use href="#mx" x="1484.7" y="141.92"/><use href="#mx" x="1499.21" y="145.74"/><use href="#mx" x="1501.5" y="146.5"/><use href="#mx" x="1481.64" y="148.79"/><use href="#mx" x="1484.7" y="151.08"/><use href="#mx" x="1489.28" y="151.85"/><use href="#mx" x="1494.62" y="149.56"/><use href="#mx" x="1496.92" y="151.85"/><use href="#mx" x="1499.97" y="154.9"/><use href="#mx" x="1492.34" y="156.43"/><use href="#mx" x="1512.96" y="148.03"/><use href="#mx" x="1511.43" y="153.38"/><use href="#mx" x="1524.42" y="147.26"/><use href="#mx" x="1526.71" y="154.14"/><use href="#mx" x="1469.42" y="155.67"/><use href="#mx" x="1470.95" y="161.01"/><use href="#mx" x="1474.77" y="161.01"/><use href="#mx" x="1464.07" y="161.78"/><use href="#mx" x="1512.96" y="163.31"/><use href="#mx" x="1534.35" y="164.83"/><use href="#mx" x="1521.36" y="170.18"/><use href="#mx" x="1539.7" y="174"/><use href="#mx" x="1528.24" y="177.82"/><use href="#mx" x="1532.06" y="186.22"/><use href="#mx" x="1467.13" y="180.88"/><use href="#mx" x="1494.62" y="182.4"/><use href="#mx" x="1496.16" y="186.98"/><use href="#mx" x="1499.21" y="188.52"/><use href="#mx" x="1501.5" y="190.8"/><use href="#mx" x="1467.13" y="187.75"/><use href="#mx" x="1475.53" y="189.28"/><use href="#mx" x="1461.78" y="193.86"/><use href="#mx" x="1460.25" y="196.92"/><use href="#mx" x="1480.88" y="194.62"/><use href="#mx" x="1482.4" y="198.44"/><use href="#mx" x="1496.16" y="193.1"/><use href="#mx" x="1493.86" y="189.28"/><use href="#mx" x="1481.64" y="208.37"/><use href="#mx" x="1488.52" y="208.37"/><use href="#mx" x="1482.4" y="213.72"/><use href="#mx" x="1464.07" y="181.64"/></g>
<polyline points="1386.77,138.07 1431.85,180.01 1465.71,213.81 1479.49,215.83 1492.03,213.33 1503.31,198.78 1470.7,163.68 1498.26,160.41 1550.89,179.24 1588.73,185" fill="none" stroke="#000" stroke-width="3" stroke-linejoin="miter"/>
<path d="M1487.75,185 C1488.45,185.66 1491.26,187.43 1491.97,188.98 C1492.67,190.53 1492.55,192.91 1491.97,194.33 C1491.38,195.74 1490.53,196.87 1488.46,197.47 C1486.39,198.08 1483.28,198.69 1479.55,197.95 C1475.83,197.21 1469.04,194.81 1466.13,193.02 C1463.22,191.23 1463.57,190.53 1462.09,187.2 C1460.6,183.86 1457.89,176.7 1457.22,173 C1456.55,169.3 1456.57,168.56 1458.05,164.98 C1459.53,161.41 1464.03,154.69 1466.13,151.56 C1468.23,148.43 1467.58,148.46 1470.64,146.21 C1473.7,143.96 1481.63,139.5 1484.48,138.07 C1487.33,136.65 1487.21,137.73 1487.75,137.66" fill="none" stroke="#108540" stroke-width="4.5" stroke-dasharray="16.1 6.93"/>
<path d="M1487.75,185 C1487.05,184.34 1484.24,182.57 1483.53,181.02 C1482.83,179.47 1482.95,177.09 1483.53,175.67 C1484.12,174.26 1484.97,173.13 1487.04,172.53 C1489.11,171.92 1492.22,171.31 1495.95,172.05 C1499.67,172.79 1506.46,175.19 1509.37,176.98 C1512.28,178.77 1511.93,179.47 1513.41,182.8 C1514.9,186.14 1517.61,193.3 1518.28,197 C1518.95,200.7 1518.93,201.44 1517.45,205.02 C1515.97,208.59 1511.47,215.31 1509.37,218.44 C1507.27,221.57 1507.92,221.54 1504.86,223.79 C1501.8,226.04 1493.87,230.5 1491.02,231.93 C1488.17,233.35 1488.29,232.27 1487.75,232.34" fill="none" stroke="#108540" stroke-width="4.5" stroke-dasharray="16.1 6.93"/>
<line x1="1492.26" y1="137.3" x2="1491.25" y2="133.2" stroke="#108540" stroke-width="1.4"/>
<line x1="1483.24" y1="232.7" x2="1484.25" y2="236.8" stroke="#108540" stroke-width="1.4"/>
</g>
<rect x="1394.05" y="91.3" width="187.4" height="187.4" fill="none" stroke="#cccccc" stroke-width="1.25"/>
<text x="1428.35" y="300.2" font-size="14.8" text-anchor="middle">−1</text>
<text x="1384.05" y="250.1" font-size="14.8" text-anchor="end">−1</text>
<text x="1487.75" y="300.2" font-size="14.8" text-anchor="middle">0</text>
<text x="1384.05" y="190.7" font-size="14.8" text-anchor="end">0</text>
<text x="1547.15" y="300.2" font-size="14.8" text-anchor="middle">1</text>
<text x="1384.05" y="131.3" font-size="14.8" text-anchor="end">1</text>
<text x="1731.1" y="83.5" font-size="21.5" text-anchor="middle">Accuracy: 0.883</text>
<g clip-path="url(#k06)">
<rect x="1637.4" y="91.3" width="187.4" height="187.4" fill="#f9ba85"/>
<polygon points="1630.12,169.56 1666.35,181.26 1700.45,198.31 1721.3,209.53 1745.24,198.31 1746.25,195.34 1740.13,186.13 1737.63,183.1 1731.1,181.02 1724.39,180.01 1722.31,177.99 1723.38,167.77 1723.91,164.8 1740.13,158.15 1780.58,183.1 1786.76,187.49 1806.78,197.53 1832.08,213.51 1829.8,283.7 1632.4,283.7" fill="#8fabd3"/>
<path d="M1671.5,91.3V278.7M1637.4,244.5H1824.8M1790.5,91.3V278.7M1637.4,125.5H1824.8" stroke="#3c3c3c" stroke-opacity="0.12" stroke-width="1" fill="none"/>
<path d="M1672.5,91.3V278.7M1637.4,243.5H1824.8M1791.5,91.3V278.7M1637.4,126.5H1824.8" stroke="#d7d7d7" stroke-opacity="0.3" stroke-width="1" fill="none"/>
<path d="M1730.5,91.3V278.7M1731.5,91.3V278.7M1637.4,184.5H1824.8M1637.4,185.5H1824.8" stroke="#a0a0a0" stroke-opacity="0.22" stroke-width="1" fill="none"/>
<g class="sb"><use href="#mo" x="1733.39" y="164.07"/><use href="#mo" x="1731.87" y="167.13"/><use href="#mo" x="1744.08" y="167.13"/><use href="#mo" x="1732.63" y="170.95"/><use href="#mo" x="1734.15" y="175.53"/><use href="#mo" x="1722.69" y="174"/><use href="#mo" x="1716.59" y="179.35"/><use href="#mo" x="1724.23" y="177.82"/><use href="#mo" x="1723.46" y="182.4"/><use href="#mo" x="1760.13" y="178.58"/><use href="#mo" x="1754.78" y="181.64"/><use href="#mo" x="1748.67" y="190.04"/><use href="#mo" x="1731.87" y="192.34"/><use href="#mo" x="1754.78" y="200.74"/><use href="#mo" x="1759.36" y="200.74"/><use href="#mo" x="1763.95" y="199.21"/><use href="#mo" x="1676.1" y="195.39"/><use href="#mo" x="1682.97" y="204.25"/><use href="#mo" x="1695.96" y="203.79"/><use href="#mo" x="1688.32" y="208.37"/><use href="#mo" x="1691.38" y="211.43"/><use href="#mo" x="1688.78" y="212.5"/><use href="#mo" x="1701.31" y="208.07"/><use href="#mo" x="1708.18" y="216.01"/><use href="#mo" x="1706.66" y="222.12"/><use href="#mo" x="1718.12" y="225.18"/><use href="#mo" x="1721.93" y="224.11"/><use href="#mo" x="1737.97" y="216.78"/><use href="#mo" x="1746.38" y="221.36"/><use href="#mo" x="1740.27" y="225.18"/><use href="#mo" x="1751.72" y="216.01"/><use href="#mo" x="1727.28" y="232.82"/><use href="#mo" x="1721.17" y="209.9"/></g>
<g class="so"><use href="#mx" x="1736.45" y="138.86"/><use href="#mx" x="1728.05" y="141.92"/><use href="#mx" x="1742.56" y="145.74"/><use href="#mx" x="1744.85" y="146.5"/><use href="#mx" x="1724.99" y="148.79"/><use href="#mx" x="1728.05" y="151.08"/><use href="#mx" x="1732.63" y="151.85"/><use href="#mx" x="1737.97" y="149.56"/><use href="#mx" x="1740.27" y="151.85"/><use href="#mx" x="1743.32" y="154.9"/><use href="#mx" x="1735.69" y="156.43"/><use href="#mx" x="1756.31" y="148.03"/><use href="#mx" x="1754.78" y="153.38"/><use href="#mx" x="1767.77" y="147.26"/><use href="#mx" x="1770.06" y="154.14"/><use href="#mx" x="1712.77" y="155.67"/><use href="#mx" x="1714.3" y="161.01"/><use href="#mx" x="1718.12" y="161.01"/><use href="#mx" x="1707.42" y="161.78"/><use href="#mx" x="1756.31" y="163.31"/><use href="#mx" x="1777.7" y="164.83"/><use href="#mx" x="1764.71" y="170.18"/><use href="#mx" x="1783.05" y="174"/><use href="#mx" x="1771.59" y="177.82"/><use href="#mx" x="1775.41" y="186.22"/><use href="#mx" x="1710.48" y="180.88"/><use href="#mx" x="1737.97" y="182.4"/><use href="#mx" x="1739.51" y="186.98"/><use href="#mx" x="1742.56" y="188.52"/><use href="#mx" x="1744.85" y="190.8"/><use href="#mx" x="1710.48" y="187.75"/><use href="#mx" x="1718.88" y="189.28"/><use href="#mx" x="1705.13" y="193.86"/><use href="#mx" x="1703.6" y="196.92"/><use href="#mx" x="1724.23" y="194.62"/><use href="#mx" x="1725.75" y="198.44"/><use href="#mx" x="1739.51" y="193.1"/><use href="#mx" x="1737.21" y="189.28"/><use href="#mx" x="1724.99" y="208.37"/><use href="#mx" x="1731.87" y="208.37"/><use href="#mx" x="1725.75" y="213.72"/><use href="#mx" x="1707.42" y="181.64"/></g>
<polyline points="1630.12,169.56 1666.35,181.26 1700.45,198.31 1721.3,209.53 1745.24,198.31 1746.25,195.34 1740.13,186.13 1737.63,183.1 1731.1,181.02 1724.39,180.01 1722.31,177.99 1723.38,167.77 1723.91,164.8 1740.13,158.15 1780.58,183.1 1786.76,187.49 1806.78,197.53 1832.08,213.51" fill="none" stroke="#000" stroke-width="3" stroke-linejoin="miter"/>
<path d="M1731.1,185 C1731.8,185.66 1734.61,187.43 1735.32,188.98 C1736.02,190.53 1735.9,192.91 1735.32,194.33 C1734.73,195.74 1733.88,196.87 1731.81,197.47 C1729.74,198.08 1726.63,198.69 1722.9,197.95 C1719.18,197.21 1712.39,194.81 1709.48,193.02 C1706.57,191.23 1706.92,190.53 1705.44,187.2 C1703.95,183.86 1701.24,176.7 1700.57,173 C1699.9,169.3 1699.91,168.56 1701.4,164.98 C1702.88,161.41 1707.38,154.69 1709.48,151.56 C1711.58,148.43 1710.93,148.46 1713.99,146.21 C1717.05,143.96 1724.98,139.5 1727.83,138.07 C1730.68,136.65 1730.56,137.73 1731.1,137.66" fill="none" stroke="#108540" stroke-width="4.5" stroke-dasharray="16.1 6.93"/>
<path d="M1731.1,185 C1730.4,184.34 1727.59,182.57 1726.88,181.02 C1726.18,179.47 1726.3,177.09 1726.88,175.67 C1727.47,174.26 1728.32,173.13 1730.39,172.53 C1732.46,171.92 1735.57,171.31 1739.3,172.05 C1743.02,172.79 1749.81,175.19 1752.72,176.98 C1755.63,178.77 1755.28,179.47 1756.76,182.8 C1758.25,186.14 1760.96,193.3 1761.63,197 C1762.3,200.7 1762.28,201.44 1760.8,205.02 C1759.32,208.59 1754.82,215.31 1752.72,218.44 C1750.62,221.57 1751.27,221.54 1748.21,223.79 C1745.15,226.04 1737.22,230.5 1734.37,231.93 C1731.52,233.35 1731.64,232.27 1731.1,232.34" fill="none" stroke="#108540" stroke-width="4.5" stroke-dasharray="16.1 6.93"/>
<line x1="1735.61" y1="137.3" x2="1734.6" y2="133.2" stroke="#108540" stroke-width="1.4"/>
<line x1="1726.59" y1="232.7" x2="1727.6" y2="236.8" stroke="#108540" stroke-width="1.4"/>
</g>
<rect x="1637.4" y="91.3" width="187.4" height="187.4" fill="none" stroke="#cccccc" stroke-width="1.25"/>
<text x="1671.7" y="300.2" font-size="14.8" text-anchor="middle">−1</text>
<text x="1627.4" y="250.1" font-size="14.8" text-anchor="end">−1</text>
<text x="1731.1" y="300.2" font-size="14.8" text-anchor="middle">0</text>
<text x="1627.4" y="190.7" font-size="14.8" text-anchor="end">0</text>
<text x="1790.5" y="300.2" font-size="14.8" text-anchor="middle">1</text>
<text x="1627.4" y="131.3" font-size="14.8" text-anchor="end">1</text>
<text x="271" y="326.85" font-size="21.5" text-anchor="middle">Accuracy: 0.720</text>
<g clip-path="url(#k10)">
<rect x="177.3" y="334.65" width="187.4" height="187.4" fill="#f9ba85"/>
<polygon points="170.02,404 258.53,455.08 279.91,456.27 262.98,407.56 265.65,404.59 293.87,400.19 371.98,469.34 369.7,527.05 172.3,527.05" fill="#8fabd3"/>
<path d="M211.5,334.65V522.05M177.3,428.5H364.7M330.5,334.65V522.05" stroke="#3c3c3c" stroke-opacity="0.12" stroke-width="1" fill="none"/>
<path d="M212.5,334.65V522.05M177.3,427.5H364.7M329.5,334.65V522.05" stroke="#d7d7d7" stroke-opacity="0.3" stroke-width="1" fill="none"/>
<path d="M177.3,487.5H364.7M177.3,488.5H364.7M270.5,334.65V522.05M271.5,334.65V522.05M177.3,368.5H364.7M177.3,369.5H364.7" stroke="#a0a0a0" stroke-opacity="0.22" stroke-width="1" fill="none"/>
<g class="sb"><use href="#mo" x="289.36" y="396.26"/><use href="#mo" x="275.1" y="401.43"/><use href="#mo" x="279.02" y="411.42"/><use href="#mo" x="285.26" y="415.34"/><use href="#mo" x="284.73" y="421.04"/><use href="#mo" x="270.11" y="416.23"/><use href="#mo" x="272.78" y="419.79"/><use href="#mo" x="258.52" y="418.01"/><use href="#mo" x="260.84" y="417.12"/><use href="#mo" x="251.39" y="421.04"/><use href="#mo" x="257.63" y="423.9"/><use href="#mo" x="257.63" y="427.82"/><use href="#mo" x="265.65" y="430.49"/><use href="#mo" x="306.65" y="410.88"/><use href="#mo" x="310.22" y="424.61"/><use href="#mo" x="311.11" y="432.27"/><use href="#mo" x="316.1" y="435.84"/><use href="#mo" x="321.8" y="430.49"/><use href="#mo" x="321.8" y="433.16"/><use href="#mo" x="307.9" y="445.28"/><use href="#mo" x="312.89" y="445.64"/><use href="#mo" x="300.06" y="459.01"/><use href="#mo" x="196.13" y="431.38"/><use href="#mo" x="202.72" y="457.23"/><use href="#mo" x="198.44" y="461.33"/><use href="#mo" x="210.39" y="462.58"/><use href="#mo" x="209.85" y="465.25"/><use href="#mo" x="213.06" y="472.03"/><use href="#mo" x="213.42" y="478.26"/><use href="#mo" x="232.13" y="470.07"/><use href="#mo" x="238.91" y="480.41"/><use href="#mo" x="227.68" y="484.33"/><use href="#mo" x="224.83" y="490.74"/><use href="#mo" x="277.77" y="480.05"/><use href="#mo" x="280.27" y="486.29"/><use href="#mo" x="284.73" y="475.95"/><use href="#mo" x="295.43" y="478.09"/><use href="#mo" x="266.19" y="497.88"/></g>
<g class="so"><use href="#mx" x="281.7" y="364"/><use href="#mx" x="295.96" y="368.09"/><use href="#mx" x="295.07" y="370.77"/><use href="#mx" x="315.57" y="373.44"/><use href="#mx" x="316.46" y="376.11"/><use href="#mx" x="253.17" y="375.22"/><use href="#mx" x="253.17" y="377.9"/><use href="#mx" x="262.08" y="381.47"/><use href="#mx" x="242.48" y="385.92"/><use href="#mx" x="312.89" y="384.14"/><use href="#mx" x="326.27" y="387.7"/><use href="#mx" x="331.61" y="385.39"/><use href="#mx" x="344.98" y="403.75"/><use href="#mx" x="331.61" y="408.56"/><use href="#mx" x="342.31" y="422.83"/><use href="#mx" x="250.14" y="414.44"/><use href="#mx" x="222.33" y="418.36"/><use href="#mx" x="246.57" y="428.71"/><use href="#mx" x="237.13" y="433.16"/><use href="#mx" x="232.67" y="432.27"/><use href="#mx" x="243.37" y="439.94"/><use href="#mx" x="234.1" y="445.28"/><use href="#mx" x="238.38" y="447.42"/><use href="#mx" x="238.38" y="454.2"/><use href="#mx" x="243.37" y="454.2"/><use href="#mx" x="251.39" y="456.34"/><use href="#mx" x="252.28" y="458.48"/><use href="#mx" x="276.88" y="425.68"/><use href="#mx" x="281.16" y="429.6"/><use href="#mx" x="282.59" y="435.84"/><use href="#mx" x="265.65" y="436.73"/><use href="#mx" x="268.33" y="441.19"/><use href="#mx" x="279.02" y="443.86"/><use href="#mx" x="266.55" y="447.42"/><use href="#mx" x="261.19" y="449.21"/></g>
<polyline points="170.02,404 258.53,455.08 279.91,456.27 262.98,407.56 265.65,404.59 293.87,400.19 371.98,469.34" fill="none" stroke="#000" stroke-width="3" stroke-linejoin="miter"/>
<path d="M271,428.35 C271.92,428.95 275.38,430.22 276.52,431.97 C277.67,433.73 278.3,436.45 277.89,438.86 C277.48,441.28 277.28,444.46 274.09,446.47 C270.9,448.48 262.58,450.46 258.76,450.92 C254.94,451.39 254.6,450.68 251.16,449.26 C247.73,447.83 241.21,444.28 238.15,442.37 C235.09,440.46 234.96,440.98 232.81,437.79 C230.65,434.61 226.86,426.93 225.2,423.24 C223.55,419.55 223.27,419.44 222.89,415.64 C222.5,411.84 222.5,404.12 222.89,400.43 C223.27,396.74 223.68,396.93 225.2,393.48 C226.73,390.04 230.38,383.2 232.03,379.76 C233.69,376.33 232.7,375.67 235.12,372.87 C237.55,370.07 243.79,365.5 246.59,362.95 C249.38,360.4 248.58,359.58 251.87,357.55 C255.17,355.51 262.79,352.36 266.37,350.71 C269.94,349.07 271.52,348.07 273.32,347.68 C275.11,347.3 276.48,348.28 277.12,348.4" fill="none" stroke="#108540" stroke-width="4.5" stroke-dasharray="16.1 6.93"/>
<path d="M271,428.35 C270.08,427.75 266.62,426.48 265.48,424.73 C264.33,422.97 263.7,420.25 264.11,417.84 C264.52,415.42 264.72,412.24 267.91,410.23 C271.1,408.22 279.42,406.24 283.24,405.78 C287.06,405.31 287.4,406.02 290.84,407.44 C294.27,408.87 300.79,412.42 303.85,414.33 C306.91,416.24 307.04,415.72 309.19,418.91 C311.35,422.09 315.14,429.77 316.8,433.46 C318.45,437.15 318.73,437.26 319.11,441.06 C319.5,444.86 319.5,452.58 319.11,456.27 C318.73,459.96 318.32,459.77 316.8,463.22 C315.27,466.66 311.62,473.5 309.97,476.94 C308.31,480.37 309.3,481.03 306.88,483.83 C304.45,486.63 298.21,491.2 295.41,493.75 C292.62,496.3 293.42,497.12 290.13,499.15 C286.83,501.19 279.21,504.34 275.63,505.99 C272.06,507.63 270.48,508.63 268.68,509.02 C266.89,509.4 265.52,508.42 264.88,508.3" fill="none" stroke="#108540" stroke-width="4.5" stroke-dasharray="16.1 6.93"/>
</g>
<rect x="177.3" y="334.65" width="187.4" height="187.4" fill="none" stroke="#cccccc" stroke-width="1.25"/>
<text x="211.6" y="543.55" font-size="14.8" text-anchor="middle">−1</text>
<text x="167.3" y="493.45" font-size="14.8" text-anchor="end">−1</text>
<text x="271" y="543.55" font-size="14.8" text-anchor="middle">0</text>
<text x="167.3" y="434.05" font-size="14.8" text-anchor="end">0</text>
<text x="330.4" y="543.55" font-size="14.8" text-anchor="middle">1</text>
<text x="167.3" y="374.65" font-size="14.8" text-anchor="end">1</text>
<text x="514.35" y="326.85" font-size="21.5" text-anchor="middle">Accuracy: 0.620</text>
<g clip-path="url(#k11)">
<rect x="420.65" y="334.65" width="187.4" height="187.4" fill="#f9ba85"/>
<polygon points="413.37,443.02 464.75,420.81 532.7,401.92 615.33,409.64 613.05,527.05 415.65,527.05" fill="#8fabd3"/>
<path d="M514.5,334.65V522.05M420.65,428.5H608.05" stroke="#3c3c3c" stroke-opacity="0.12" stroke-width="1" fill="none"/>
<path d="M513.5,334.65V522.05M420.65,427.5H608.05" stroke="#d7d7d7" stroke-opacity="0.3" stroke-width="1" fill="none"/>
<path d="M454.5,334.65V522.05M455.5,334.65V522.05M420.65,487.5H608.05M420.65,488.5H608.05M573.5,334.65V522.05M574.5,334.65V522.05M420.65,368.5H608.05M420.65,369.5H608.05" stroke="#a0a0a0" stroke-opacity="0.22" stroke-width="1" fill="none"/>
<g class="sb"><use href="#mo" x="532.71" y="396.26"/><use href="#mo" x="518.45" y="401.43"/><use href="#mo" x="522.37" y="411.42"/><use href="#mo" x="528.61" y="415.34"/><use href="#mo" x="528.08" y="421.04"/><use href="#mo" x="513.46" y="416.23"/><use href="#mo" x="516.13" y="419.79"/><use href="#mo" x="501.87" y="418.01"/><use href="#mo" x="504.19" y="417.12"/><use href="#mo" x="494.74" y="421.04"/><use href="#mo" x="500.98" y="423.9"/><use href="#mo" x="500.98" y="427.82"/><use href="#mo" x="509" y="430.49"/><use href="#mo" x="550" y="410.88"/><use href="#mo" x="553.57" y="424.61"/><use href="#mo" x="554.46" y="432.27"/><use href="#mo" x="559.45" y="435.84"/><use href="#mo" x="565.15" y="430.49"/><use href="#mo" x="565.15" y="433.16"/><use href="#mo" x="551.25" y="445.28"/><use href="#mo" x="556.24" y="445.64"/><use href="#mo" x="543.41" y="459.01"/><use href="#mo" x="439.48" y="431.38"/><use href="#mo" x="446.07" y="457.23"/><use href="#mo" x="441.79" y="461.33"/><use href="#mo" x="453.74" y="462.58"/><use href="#mo" x="453.2" y="465.25"/><use href="#mo" x="456.41" y="472.03"/><use href="#mo" x="456.77" y="478.26"/><use href="#mo" x="475.48" y="470.07"/><use href="#mo" x="482.26" y="480.41"/><use href="#mo" x="471.03" y="484.33"/><use href="#mo" x="468.18" y="490.74"/><use href="#mo" x="521.12" y="480.05"/><use href="#mo" x="523.62" y="486.29"/><use href="#mo" x="528.08" y="475.95"/><use href="#mo" x="538.78" y="478.09"/><use href="#mo" x="509.54" y="497.88"/></g>
<g class="so"><use href="#mx" x="525.05" y="364"/><use href="#mx" x="539.31" y="368.09"/><use href="#mx" x="538.42" y="370.77"/><use href="#mx" x="558.92" y="373.44"/><use href="#mx" x="559.81" y="376.11"/><use href="#mx" x="496.52" y="375.22"/><use href="#mx" x="496.52" y="377.9"/><use href="#mx" x="505.43" y="381.47"/><use href="#mx" x="485.83" y="385.92"/><use href="#mx" x="556.24" y="384.14"/><use href="#mx" x="569.62" y="387.7"/><use href="#mx" x="574.96" y="385.39"/><use href="#mx" x="588.33" y="403.75"/><use href="#mx" x="574.96" y="408.56"/><use href="#mx" x="585.66" y="422.83"/><use href="#mx" x="493.49" y="414.44"/><use href="#mx" x="465.68" y="418.36"/><use href="#mx" x="489.92" y="428.71"/><use href="#mx" x="480.48" y="433.16"/><use href="#mx" x="476.02" y="432.27"/><use href="#mx" x="486.72" y="439.94"/><use href="#mx" x="477.45" y="445.28"/><use href="#mx" x="481.73" y="447.42"/><use href="#mx" x="481.73" y="454.2"/><use href="#mx" x="486.72" y="454.2"/><use href="#mx" x="494.74" y="456.34"/><use href="#mx" x="495.63" y="458.48"/><use href="#mx" x="520.23" y="425.68"/><use href="#mx" x="524.51" y="429.6"/><use href="#mx" x="525.94" y="435.84"/><use href="#mx" x="509" y="436.73"/><use href="#mx" x="511.68" y="441.19"/><use href="#mx" x="522.37" y="443.86"/><use href="#mx" x="509.9" y="447.42"/><use href="#mx" x="504.54" y="449.21"/></g>
<polyline points="413.37,443.02 464.75,420.81 532.7,401.92 615.33,409.64" fill="none" stroke="#000" stroke-width="3" stroke-linejoin="miter"/>
<path d="M514.35,428.35 C515.27,428.95 518.73,430.22 519.87,431.97 C521.02,433.73 521.65,436.45 521.24,438.86 C520.83,441.28 520.63,444.46 517.44,446.47 C514.25,448.48 505.94,450.46 502.11,450.92 C498.29,451.39 497.95,450.68 494.51,449.26 C491.08,447.83 484.56,444.28 481.5,442.37 C478.44,440.46 478.31,440.98 476.16,437.79 C474,434.61 470.21,426.93 468.55,423.24 C466.9,419.55 466.62,419.44 466.24,415.64 C465.85,411.84 465.85,404.12 466.24,400.43 C466.62,396.74 467.03,396.93 468.55,393.48 C470.08,390.04 473.73,383.2 475.38,379.76 C477.04,376.33 476.05,375.67 478.47,372.87 C480.9,370.07 487.14,365.5 489.94,362.95 C492.73,360.4 491.93,359.58 495.22,357.55 C498.52,355.51 506.14,352.36 509.72,350.71 C513.29,349.07 514.87,348.07 516.67,347.68 C518.46,347.3 519.83,348.28 520.47,348.4" fill="none" stroke="#108540" stroke-width="4.5" stroke-dasharray="16.1 6.93"/>
<path d="M514.35,428.35 C513.43,427.75 509.97,426.48 508.83,424.73 C507.68,422.97 507.05,420.25 507.46,417.84 C507.87,415.42 508.07,412.24 511.26,410.23 C514.45,408.22 522.76,406.24 526.59,405.78 C530.41,405.31 530.75,406.02 534.19,407.44 C537.62,408.87 544.14,412.42 547.2,414.33 C550.26,416.24 550.39,415.72 552.54,418.91 C554.7,422.09 558.49,429.77 560.15,433.46 C561.8,437.15 562.08,437.26 562.46,441.06 C562.85,444.86 562.85,452.58 562.46,456.27 C562.08,459.96 561.67,459.77 560.15,463.22 C558.62,466.66 554.97,473.5 553.32,476.94 C551.66,480.37 552.65,481.03 550.23,483.83 C547.8,486.63 541.56,491.2 538.76,493.75 C535.97,496.3 536.77,497.12 533.48,499.15 C530.18,501.19 522.56,504.34 518.98,505.99 C515.41,507.63 513.83,508.63 512.03,509.02 C510.24,509.4 508.87,508.42 508.23,508.3" fill="none" stroke="#108540" stroke-width="4.5" stroke-dasharray="16.1 6.93"/>
</g>
<rect x="420.65" y="334.65" width="187.4" height="187.4" fill="none" stroke="#cccccc" stroke-width="1.25"/>
<text x="454.95" y="543.55" font-size="14.8" text-anchor="middle">−1</text>
<text x="410.65" y="493.45" font-size="14.8" text-anchor="end">−1</text>
<text x="514.35" y="543.55" font-size="14.8" text-anchor="middle">0</text>
<text x="410.65" y="434.05" font-size="14.8" text-anchor="end">0</text>
<text x="573.75" y="543.55" font-size="14.8" text-anchor="middle">1</text>
<text x="410.65" y="374.65" font-size="14.8" text-anchor="end">1</text>
<text x="757.7" y="326.85" font-size="21.5" text-anchor="middle">Accuracy: 0.520</text>
<g clip-path="url(#k12)">
<rect x="664" y="334.65" width="187.4" height="187.4" fill="#f9ba85"/>
<polygon points="656.72,415.58 698.06,417.6 733.11,420.09 754.43,420.81 757.7,414.57 761.2,410.83 768.21,412.07 781.99,414.57 808.31,413.32 833.38,411.54 858.68,408.15 856.4,527.05 659,527.05" fill="#8fabd3"/>
<path d="M698.5,334.65V522.05M757.5,334.65V522.05M664,428.5H851.4" stroke="#3c3c3c" stroke-opacity="0.12" stroke-width="1" fill="none"/>
<path d="M697.5,334.65V522.05M758.5,334.65V522.05M664,427.5H851.4" stroke="#d7d7d7" stroke-opacity="0.3" stroke-width="1" fill="none"/>
<path d="M664,487.5H851.4M664,488.5H851.4M816.5,334.65V522.05M817.5,334.65V522.05M664,368.5H851.4M664,369.5H851.4" stroke="#a0a0a0" stroke-opacity="0.22" stroke-width="1" fill="none"/>
<g class="sb"><use href="#mo" x="776.06" y="396.26"/><use href="#mo" x="761.8" y="401.43"/><use href="#mo" x="765.72" y="411.42"/><use href="#mo" x="771.96" y="415.34"/><use href="#mo" x="771.43" y="421.04"/><use href="#mo" x="756.81" y="416.23"/><use href="#mo" x="759.48" y="419.79"/><use href="#mo" x="745.22" y="418.01"/><use href="#mo" x="747.54" y="417.12"/><use href="#mo" x="738.09" y="421.04"/><use href="#mo" x="744.33" y="423.9"/><use href="#mo" x="744.33" y="427.82"/><use href="#mo" x="752.35" y="430.49"/><use href="#mo" x="793.35" y="410.88"/><use href="#mo" x="796.92" y="424.61"/><use href="#mo" x="797.81" y="432.27"/><use href="#mo" x="802.8" y="435.84"/><use href="#mo" x="808.5" y="430.49"/><use href="#mo" x="808.5" y="433.16"/><use href="#mo" x="794.6" y="445.28"/><use href="#mo" x="799.59" y="445.64"/><use href="#mo" x="786.76" y="459.01"/><use href="#mo" x="682.83" y="431.38"/><use href="#mo" x="689.42" y="457.23"/><use href="#mo" x="685.14" y="461.33"/><use href="#mo" x="697.09" y="462.58"/><use href="#mo" x="696.55" y="465.25"/><use href="#mo" x="699.76" y="472.03"/><use href="#mo" x="700.12" y="478.26"/><use href="#mo" x="718.83" y="470.07"/><use href="#mo" x="725.61" y="480.41"/><use href="#mo" x="714.38" y="484.33"/><use href="#mo" x="711.53" y="490.74"/><use href="#mo" x="764.47" y="480.05"/><use href="#mo" x="766.97" y="486.29"/><use href="#mo" x="771.43" y="475.95"/><use href="#mo" x="782.13" y="478.09"/><use href="#mo" x="752.89" y="497.88"/></g>
<g class="so"><use href="#mx" x="768.4" y="364"/><use href="#mx" x="782.66" y="368.09"/><use href="#mx" x="781.77" y="370.77"/><use href="#mx" x="802.27" y="373.44"/><use href="#mx" x="803.16" y="376.11"/><use href="#mx" x="739.87" y="375.22"/><use href="#mx" x="739.87" y="377.9"/><use href="#mx" x="748.78" y="381.47"/><use href="#mx" x="729.18" y="385.92"/><use href="#mx" x="799.59" y="384.14"/><use href="#mx" x="812.97" y="387.7"/><use href="#mx" x="818.31" y="385.39"/><use href="#mx" x="831.68" y="403.75"/><use href="#mx" x="818.31" y="408.56"/><use href="#mx" x="829.01" y="422.83"/><use href="#mx" x="736.84" y="414.44"/><use href="#mx" x="709.03" y="418.36"/><use href="#mx" x="733.27" y="428.71"/><use href="#mx" x="723.83" y="433.16"/><use href="#mx" x="719.37" y="432.27"/><use href="#mx" x="730.07" y="439.94"/><use href="#mx" x="720.8" y="445.28"/><use href="#mx" x="725.08" y="447.42"/><use href="#mx" x="725.08" y="454.2"/><use href="#mx" x="730.07" y="454.2"/><use href="#mx" x="738.09" y="456.34"/><use href="#mx" x="738.98" y="458.48"/><use href="#mx" x="763.58" y="425.68"/><use href="#mx" x="767.86" y="429.6"/><use href="#mx" x="769.29" y="435.84"/><use href="#mx" x="752.35" y="436.73"/><use href="#mx" x="755.03" y="441.19"/><use href="#mx" x="765.72" y="443.86"/><use href="#mx" x="753.25" y="447.42"/><use href="#mx" x="747.89" y="449.21"/></g>
<polyline points="656.72,415.58 698.06,417.6 733.11,420.09 754.43,420.81 757.7,414.57 761.2,410.83 768.21,412.07 781.99,414.57 808.31,413.32 833.38,411.54 858.68,408.15" fill="none" stroke="#000" stroke-width="3" stroke-linejoin="miter"/>
<path d="M757.7,428.35 C758.62,428.95 762.08,430.22 763.22,431.97 C764.37,433.73 765,436.45 764.59,438.86 C764.18,441.28 763.98,444.46 760.79,446.47 C757.6,448.48 749.29,450.46 745.46,450.92 C741.64,451.39 741.3,450.68 737.86,449.26 C734.43,447.83 727.91,444.28 724.85,442.37 C721.79,440.46 721.66,440.98 719.51,437.79 C717.35,434.61 713.56,426.93 711.9,423.24 C710.25,419.55 709.97,419.44 709.59,415.64 C709.2,411.84 709.2,404.12 709.59,400.43 C709.97,396.74 710.38,396.93 711.9,393.48 C713.43,390.04 717.08,383.2 718.73,379.76 C720.39,376.33 719.4,375.67 721.82,372.87 C724.25,370.07 730.49,365.5 733.29,362.95 C736.08,360.4 735.28,359.58 738.57,357.55 C741.87,355.51 749.49,352.36 753.07,350.71 C756.64,349.07 758.22,348.07 760.02,347.68 C761.81,347.3 763.18,348.28 763.82,348.4" fill="none" stroke="#108540" stroke-width="4.5" stroke-dasharray="16.1 6.93"/>
<path d="M757.7,428.35 C756.78,427.75 753.32,426.48 752.18,424.73 C751.03,422.97 750.4,420.25 750.81,417.84 C751.22,415.42 751.42,412.24 754.61,410.23 C757.8,408.22 766.12,406.24 769.94,405.78 C773.76,405.31 774.1,406.02 777.54,407.44 C780.97,408.87 787.49,412.42 790.55,414.33 C793.61,416.24 793.74,415.72 795.89,418.91 C798.05,422.09 801.84,429.77 803.5,433.46 C805.15,437.15 805.43,437.26 805.81,441.06 C806.2,444.86 806.2,452.58 805.81,456.27 C805.43,459.96 805.02,459.77 803.5,463.22 C801.97,466.66 798.32,473.5 796.67,476.94 C795.01,480.37 796,481.03 793.58,483.83 C791.15,486.63 784.91,491.2 782.11,493.75 C779.32,496.3 780.12,497.12 776.83,499.15 C773.53,501.19 765.91,504.34 762.33,505.99 C758.76,507.63 757.18,508.63 755.38,509.02 C753.59,509.4 752.22,508.42 751.58,508.3" fill="none" stroke="#108540" stroke-width="4.5" stroke-dasharray="16.1 6.93"/>
</g>
<rect x="664" y="334.65" width="187.4" height="187.4" fill="none" stroke="#cccccc" stroke-width="1.25"/>
<text x="698.3" y="543.55" font-size="14.8" text-anchor="middle">−1</text>
<text x="654" y="493.45" font-size="14.8" text-anchor="end">−1</text>
<text x="757.7" y="543.55" font-size="14.8" text-anchor="middle">0</text>
<text x="654" y="434.05" font-size="14.8" text-anchor="end">0</text>
<text x="817.1" y="543.55" font-size="14.8" text-anchor="middle">1</text>
<text x="654" y="374.65" font-size="14.8" text-anchor="end">1</text>
<text x="1001.05" y="326.85" font-size="21.5" text-anchor="middle">Accuracy: 0.828</text>
<g clip-path="url(#k13)">
<rect x="907.35" y="334.65" width="187.4" height="187.4" fill="#f9ba85"/>
<polygon points="900.07,404.59 986.02,457.69 1011.09,451.63 1017.86,443.38 966.72,387.48 1054.93,427.1 1102.03,424.79 1099.75,527.05 902.35,527.05" fill="#8fabd3"/>
<path d="M941.5,334.65V522.05M907.35,428.5H1094.75M1060.5,334.65V522.05" stroke="#3c3c3c" stroke-opacity="0.12" stroke-width="1" fill="none"/>
<path d="M942.5,334.65V522.05M907.35,427.5H1094.75M1059.5,334.65V522.05" stroke="#d7d7d7" stroke-opacity="0.3" stroke-width="1" fill="none"/>
<path d="M907.35,487.5H1094.75M907.35,488.5H1094.75M1000.5,334.65V522.05M1001.5,334.65V522.05M907.35,368.5H1094.75M907.35,369.5H1094.75" stroke="#a0a0a0" stroke-opacity="0.22" stroke-width="1" fill="none"/>
<g class="sb"><use href="#mo" x="1019.41" y="396.26"/><use href="#mo" x="1005.15" y="401.43"/><use href="#mo" x="1009.07" y="411.42"/><use href="#mo" x="1015.31" y="415.34"/><use href="#mo" x="1014.78" y="421.04"/><use href="#mo" x="1000.16" y="416.23"/><use href="#mo" x="1002.83" y="419.79"/><use href="#mo" x="988.57" y="418.01"/><use href="#mo" x="990.89" y="417.12"/><use href="#mo" x="981.44" y="421.04"/><use href="#mo" x="987.68" y="423.9"/><use href="#mo" x="987.68" y="427.82"/><use href="#mo" x="995.7" y="430.49"/><use href="#mo" x="1036.7" y="410.88"/><use href="#mo" x="1040.27" y="424.61"/><use href="#mo" x="1041.16" y="432.27"/><use href="#mo" x="1046.15" y="435.84"/><use href="#mo" x="1051.85" y="430.49"/><use href="#mo" x="1051.85" y="433.16"/><use href="#mo" x="1037.95" y="445.28"/><use href="#mo" x="1042.94" y="445.64"/><use href="#mo" x="1030.11" y="459.01"/><use href="#mo" x="926.18" y="431.38"/><use href="#mo" x="932.77" y="457.23"/><use href="#mo" x="928.49" y="461.33"/><use href="#mo" x="940.44" y="462.58"/><use href="#mo" x="939.9" y="465.25"/><use href="#mo" x="943.11" y="472.03"/><use href="#mo" x="943.47" y="478.26"/><use href="#mo" x="962.18" y="470.07"/><use href="#mo" x="968.96" y="480.41"/><use href="#mo" x="957.73" y="484.33"/><use href="#mo" x="954.88" y="490.74"/><use href="#mo" x="1007.82" y="480.05"/><use href="#mo" x="1010.32" y="486.29"/><use href="#mo" x="1014.78" y="475.95"/><use href="#mo" x="1025.48" y="478.09"/><use href="#mo" x="996.24" y="497.88"/></g>
<g class="so"><use href="#mx" x="1011.75" y="364"/><use href="#mx" x="1026.01" y="368.09"/><use href="#mx" x="1025.12" y="370.77"/><use href="#mx" x="1045.62" y="373.44"/><use href="#mx" x="1046.51" y="376.11"/><use href="#mx" x="983.22" y="375.22"/><use href="#mx" x="983.22" y="377.9"/><use href="#mx" x="992.13" y="381.47"/><use href="#mx" x="972.53" y="385.92"/><use href="#mx" x="1042.94" y="384.14"/><use href="#mx" x="1056.32" y="387.7"/><use href="#mx" x="1061.66" y="385.39"/><use href="#mx" x="1075.03" y="403.75"/><use href="#mx" x="1061.66" y="408.56"/><use href="#mx" x="1072.36" y="422.83"/><use href="#mx" x="980.19" y="414.44"/><use href="#mx" x="952.38" y="418.36"/><use href="#mx" x="976.62" y="428.71"/><use href="#mx" x="967.18" y="433.16"/><use href="#mx" x="962.72" y="432.27"/><use href="#mx" x="973.42" y="439.94"/><use href="#mx" x="964.15" y="445.28"/><use href="#mx" x="968.43" y="447.42"/><use href="#mx" x="968.43" y="454.2"/><use href="#mx" x="973.42" y="454.2"/><use href="#mx" x="981.44" y="456.34"/><use href="#mx" x="982.33" y="458.48"/><use href="#mx" x="1006.93" y="425.68"/><use href="#mx" x="1011.21" y="429.6"/><use href="#mx" x="1012.64" y="435.84"/><use href="#mx" x="995.7" y="436.73"/><use href="#mx" x="998.38" y="441.19"/><use href="#mx" x="1009.07" y="443.86"/><use href="#mx" x="996.59" y="447.42"/><use href="#mx" x="991.24" y="449.21"/></g>
<polyline points="900.07,404.59 986.02,457.69 1011.09,451.63 1017.86,443.38 966.72,387.48 1054.93,427.1 1102.03,424.79" fill="none" stroke="#000" stroke-width="3" stroke-linejoin="miter"/>
<path d="M1001.05,428.35 C1001.97,428.95 1005.43,430.22 1006.57,431.97 C1007.72,433.73 1008.35,436.45 1007.94,438.86 C1007.53,441.28 1007.33,444.46 1004.14,446.47 C1000.95,448.48 992.63,450.46 988.81,450.92 C984.99,451.39 984.65,450.68 981.21,449.26 C977.78,447.83 971.26,444.28 968.2,442.37 C965.14,440.46 965.01,440.98 962.86,437.79 C960.7,434.61 956.91,426.93 955.25,423.24 C953.6,419.55 953.32,419.44 952.94,415.64 C952.55,411.84 952.55,404.12 952.94,400.43 C953.32,396.74 953.73,396.93 955.25,393.48 C956.78,390.04 960.43,383.2 962.08,379.76 C963.74,376.33 962.75,375.67 965.17,372.87 C967.6,370.07 973.84,365.5 976.64,362.95 C979.43,360.4 978.63,359.58 981.92,357.55 C985.22,355.51 992.84,352.36 996.42,350.71 C999.99,349.07 1001.57,348.07 1003.37,347.68 C1005.16,347.3 1006.53,348.28 1007.17,348.4" fill="none" stroke="#108540" stroke-width="4.5" stroke-dasharray="16.1 6.93"/>
<path d="M1001.05,428.35 C1000.13,427.75 996.67,426.48 995.53,424.73 C994.38,422.97 993.75,420.25 994.16,417.84 C994.57,415.42 994.77,412.24 997.96,410.23 C1001.15,408.22 1009.46,406.24 1013.29,405.78 C1017.11,405.31 1017.45,406.02 1020.89,407.44 C1024.32,408.87 1030.84,412.42 1033.9,414.33 C1036.96,416.24 1037.09,415.72 1039.24,418.91 C1041.4,422.09 1045.19,429.77 1046.85,433.46 C1048.5,437.15 1048.78,437.26 1049.16,441.06 C1049.55,444.86 1049.55,452.58 1049.16,456.27 C1048.78,459.96 1048.37,459.77 1046.85,463.22 C1045.32,466.66 1041.67,473.5 1040.02,476.94 C1038.36,480.37 1039.35,481.03 1036.93,483.83 C1034.5,486.63 1028.26,491.2 1025.46,493.75 C1022.67,496.3 1023.47,497.12 1020.18,499.15 C1016.88,501.19 1009.26,504.34 1005.68,505.99 C1002.11,507.63 1000.53,508.63 998.73,509.02 C996.94,509.4 995.57,508.42 994.93,508.3" fill="none" stroke="#108540" stroke-width="4.5" stroke-dasharray="16.1 6.93"/>
</g>
<rect x="907.35" y="334.65" width="187.4" height="187.4" fill="none" stroke="#cccccc" stroke-width="1.25"/>
<text x="941.65" y="543.55" font-size="14.8" text-anchor="middle">−1</text>
<text x="897.35" y="493.45" font-size="14.8" text-anchor="end">−1</text>
<text x="1001.05" y="543.55" font-size="14.8" text-anchor="middle">0</text>
<text x="897.35" y="434.05" font-size="14.8" text-anchor="end">0</text>
<text x="1060.45" y="543.55" font-size="14.8" text-anchor="middle">1</text>
<text x="897.35" y="374.65" font-size="14.8" text-anchor="end">1</text>
<text x="1244.4" y="326.85" font-size="21.5" text-anchor="middle">Accuracy: 0.770</text>
<g clip-path="url(#k14)">
<rect x="1150.7" y="334.65" width="187.4" height="187.4" fill="#f9ba85"/>
<polygon points="1143.42,383.21 1220.11,455.91 1241.37,458.41 1250.16,454.66 1256.93,442.13 1221.35,400.79 1257.71,403.76 1302.79,422.11 1345.38,425.68 1343.1,527.05 1145.7,527.05" fill="#8fabd3"/>
<path d="M1244.5,334.65V522.05M1150.7,428.5H1338.1" stroke="#3c3c3c" stroke-opacity="0.12" stroke-width="1" fill="none"/>
<path d="M1243.5,334.65V522.05M1150.7,427.5H1338.1" stroke="#d7d7d7" stroke-opacity="0.3" stroke-width="1" fill="none"/>
<path d="M1184.5,334.65V522.05M1185.5,334.65V522.05M1150.7,487.5H1338.1M1150.7,488.5H1338.1M1303.5,334.65V522.05M1304.5,334.65V522.05M1150.7,368.5H1338.1M1150.7,369.5H1338.1" stroke="#a0a0a0" stroke-opacity="0.22" stroke-width="1" fill="none"/>
<g class="sb"><use href="#mo" x="1262.76" y="396.26"/><use href="#mo" x="1248.5" y="401.43"/><use href="#mo" x="1252.42" y="411.42"/><use href="#mo" x="1258.66" y="415.34"/><use href="#mo" x="1258.13" y="421.04"/><use href="#mo" x="1243.51" y="416.23"/><use href="#mo" x="1246.18" y="419.79"/><use href="#mo" x="1231.92" y="418.01"/><use href="#mo" x="1234.24" y="417.12"/><use href="#mo" x="1224.79" y="421.04"/><use href="#mo" x="1231.03" y="423.9"/><use href="#mo" x="1231.03" y="427.82"/><use href="#mo" x="1239.05" y="430.49"/><use href="#mo" x="1280.05" y="410.88"/><use href="#mo" x="1283.62" y="424.61"/><use href="#mo" x="1284.51" y="432.27"/><use href="#mo" x="1289.5" y="435.84"/><use href="#mo" x="1295.2" y="430.49"/><use href="#mo" x="1295.2" y="433.16"/><use href="#mo" x="1281.3" y="445.28"/><use href="#mo" x="1286.29" y="445.64"/><use href="#mo" x="1273.46" y="459.01"/><use href="#mo" x="1169.53" y="431.38"/><use href="#mo" x="1176.12" y="457.23"/><use href="#mo" x="1171.84" y="461.33"/><use href="#mo" x="1183.79" y="462.58"/><use href="#mo" x="1183.25" y="465.25"/><use href="#mo" x="1186.46" y="472.03"/><use href="#mo" x="1186.82" y="478.26"/><use href="#mo" x="1205.53" y="470.07"/><use href="#mo" x="1212.31" y="480.41"/><use href="#mo" x="1201.08" y="484.33"/><use href="#mo" x="1198.23" y="490.74"/><use href="#mo" x="1251.17" y="480.05"/><use href="#mo" x="1253.67" y="486.29"/><use href="#mo" x="1258.13" y="475.95"/><use href="#mo" x="1268.83" y="478.09"/><use href="#mo" x="1239.59" y="497.88"/></g>
<g class="so"><use href="#mx" x="1255.1" y="364"/><use href="#mx" x="1269.36" y="368.09"/><use href="#mx" x="1268.47" y="370.77"/><use href="#mx" x="1288.97" y="373.44"/><use href="#mx" x="1289.86" y="376.11"/><use href="#mx" x="1226.57" y="375.22"/><use href="#mx" x="1226.57" y="377.9"/><use href="#mx" x="1235.48" y="381.47"/><use href="#mx" x="1215.88" y="385.92"/><use href="#mx" x="1286.29" y="384.14"/><use href="#mx" x="1299.67" y="387.7"/><use href="#mx" x="1305.01" y="385.39"/><use href="#mx" x="1318.38" y="403.75"/><use href="#mx" x="1305.01" y="408.56"/><use href="#mx" x="1315.71" y="422.83"/><use href="#mx" x="1223.54" y="414.44"/><use href="#mx" x="1195.73" y="418.36"/><use href="#mx" x="1219.97" y="428.71"/><use href="#mx" x="1210.53" y="433.16"/><use href="#mx" x="1206.07" y="432.27"/><use href="#mx" x="1216.77" y="439.94"/><use href="#mx" x="1207.5" y="445.28"/><use href="#mx" x="1211.78" y="447.42"/><use href="#mx" x="1211.78" y="454.2"/><use href="#mx" x="1216.77" y="454.2"/><use href="#mx" x="1224.79" y="456.34"/><use href="#mx" x="1225.68" y="458.48"/><use href="#mx" x="1250.28" y="425.68"/><use href="#mx" x="1254.56" y="429.6"/><use href="#mx" x="1255.99" y="435.84"/><use href="#mx" x="1239.05" y="436.73"/><use href="#mx" x="1241.73" y="441.19"/><use href="#mx" x="1252.42" y="443.86"/><use href="#mx" x="1239.95" y="447.42"/><use href="#mx" x="1234.59" y="449.21"/></g>
<polyline points="1143.42,383.21 1220.11,455.91 1241.37,458.41 1250.16,454.66 1256.93,442.13 1221.35,400.79 1257.71,403.76 1302.79,422.11 1345.38,425.68" fill="none" stroke="#000" stroke-width="3" stroke-linejoin="miter"/>
<path d="M1244.4,428.35 C1245.32,428.95 1248.78,430.22 1249.92,431.97 C1251.07,433.73 1251.7,436.45 1251.29,438.86 C1250.88,441.28 1250.68,444.46 1247.49,446.47 C1244.3,448.48 1235.99,450.46 1232.16,450.92 C1228.34,451.39 1228,450.68 1224.56,449.26 C1221.13,447.83 1214.61,444.28 1211.55,442.37 C1208.49,440.46 1208.36,440.98 1206.21,437.79 C1204.05,434.61 1200.26,426.93 1198.6,423.24 C1196.95,419.55 1196.67,419.44 1196.29,415.64 C1195.9,411.84 1195.9,404.12 1196.29,400.43 C1196.67,396.74 1197.08,396.93 1198.6,393.48 C1200.13,390.04 1203.78,383.2 1205.43,379.76 C1207.09,376.33 1206.1,375.67 1208.52,372.87 C1210.95,370.07 1217.19,365.5 1219.99,362.95 C1222.78,360.4 1221.98,359.58 1225.27,357.55 C1228.57,355.51 1236.19,352.36 1239.77,350.71 C1243.34,349.07 1244.92,348.07 1246.72,347.68 C1248.51,347.3 1249.88,348.28 1250.52,348.4" fill="none" stroke="#108540" stroke-width="4.5" stroke-dasharray="16.1 6.93"/>
<path d="M1244.4,428.35 C1243.48,427.75 1240.02,426.48 1238.88,424.73 C1237.73,422.97 1237.1,420.25 1237.51,417.84 C1237.92,415.42 1238.12,412.24 1241.31,410.23 C1244.5,408.22 1252.82,406.24 1256.64,405.78 C1260.46,405.31 1260.8,406.02 1264.24,407.44 C1267.67,408.87 1274.19,412.42 1277.25,414.33 C1280.31,416.24 1280.44,415.72 1282.59,418.91 C1284.75,422.09 1288.54,429.77 1290.2,433.46 C1291.85,437.15 1292.13,437.26 1292.51,441.06 C1292.9,444.86 1292.9,452.58 1292.51,456.27 C1292.13,459.96 1291.72,459.77 1290.2,463.22 C1288.67,466.66 1285.02,473.5 1283.37,476.94 C1281.71,480.37 1282.7,481.03 1280.28,483.83 C1277.85,486.63 1271.61,491.2 1268.81,493.75 C1266.02,496.3 1266.82,497.12 1263.53,499.15 C1260.23,501.19 1252.61,504.34 1249.03,505.99 C1245.46,507.63 1243.88,508.63 1242.08,509.02 C1240.29,509.4 1238.92,508.42 1238.28,508.3" fill="none" stroke="#108540" stroke-width="4.5" stroke-dasharray="16.1 6.93"/>
</g>
<rect x="1150.7" y="334.65" width="187.4" height="187.4" fill="none" stroke="#cccccc" stroke-width="1.25"/>
<text x="1185" y="543.55" font-size="14.8" text-anchor="middle">−1</text>
<text x="1140.7" y="493.45" font-size="14.8" text-anchor="end">−1</text>
<text x="1244.4" y="543.55" font-size="14.8" text-anchor="middle">0</text>
<text x="1140.7" y="434.05" font-size="14.8" text-anchor="end">0</text>
<text x="1303.8" y="543.55" font-size="14.8" text-anchor="middle">1</text>
<text x="1140.7" y="374.65" font-size="14.8" text-anchor="end">1</text>
<text x="1487.75" y="326.85" font-size="21.5" text-anchor="middle">Accuracy: 0.800</text>
<g clip-path="url(#k15)">
<rect x="1394.05" y="334.65" width="187.4" height="187.4" fill="#f9ba85"/>
<polygon points="1386.77,381.42 1431.85,423.36 1465.71,457.16 1479.49,459.18 1492.03,456.68 1503.31,442.13 1470.7,407.03 1498.26,403.76 1550.89,422.59 1588.73,428.35 1586.45,527.05 1389.05,527.05" fill="#8fabd3"/>
<path d="M1428.5,334.65V522.05M1394.05,428.5H1581.45" stroke="#3c3c3c" stroke-opacity="0.12" stroke-width="1" fill="none"/>
<path d="M1427.5,334.65V522.05M1394.05,427.5H1581.45" stroke="#d7d7d7" stroke-opacity="0.3" stroke-width="1" fill="none"/>
<path d="M1394.05,487.5H1581.45M1394.05,488.5H1581.45M1487.5,334.65V522.05M1488.5,334.65V522.05M1546.5,334.65V522.05M1547.5,334.65V522.05M1394.05,368.5H1581.45M1394.05,369.5H1581.45" stroke="#a0a0a0" stroke-opacity="0.22" stroke-width="1" fill="none"/>
<g class="sb"><use href="#mo" x="1506.11" y="396.26"/><use href="#mo" x="1491.85" y="401.43"/><use href="#mo" x="1495.77" y="411.42"/><use href="#mo" x="1502.01" y="415.34"/><use href="#mo" x="1501.48" y="421.04"/><use href="#mo" x="1486.86" y="416.23"/><use href="#mo" x="1489.53" y="419.79"/><use href="#mo" x="1475.27" y="418.01"/><use href="#mo" x="1477.59" y="417.12"/><use href="#mo" x="1468.14" y="421.04"/><use href="#mo" x="1474.38" y="423.9"/><use href="#mo" x="1474.38" y="427.82"/><use href="#mo" x="1482.4" y="430.49"/><use href="#mo" x="1523.4" y="410.88"/><use href="#mo" x="1526.97" y="424.61"/><use href="#mo" x="1527.86" y="432.27"/><use href="#mo" x="1532.85" y="435.84"/><use href="#mo" x="1538.55" y="430.49"/><use href="#mo" x="1538.55" y="433.16"/><use href="#mo" x="1524.65" y="445.28"/><use href="#mo" x="1529.64" y="445.64"/><use href="#mo" x="1516.81" y="459.01"/><use href="#mo" x="1412.88" y="431.38"/><use href="#mo" x="1419.47" y="457.23"/><use href="#mo" x="1415.19" y="461.33"/><use href="#mo" x="1427.14" y="462.58"/><use href="#mo" x="1426.6" y="465.25"/><use href="#mo" x="1429.81" y="472.03"/><use href="#mo" x="1430.17" y="478.26"/><use href="#mo" x="1448.88" y="470.07"/><use href="#mo" x="1455.66" y="480.41"/><use href="#mo" x="1444.43" y="484.33"/><use href="#mo" x="1441.58" y="490.74"/><use href="#mo" x="1494.52" y="480.05"/><use href="#mo" x="1497.02" y="486.29"/><use href="#mo" x="1501.48" y="475.95"/><use href="#mo" x="1512.18" y="478.09"/><use href="#mo" x="1482.94" y="497.88"/></g>
<g class="so"><use href="#mx" x="1498.45" y="364"/><use href="#mx" x="1512.71" y="368.09"/><use href="#mx" x="1511.82" y="370.77"/><use href="#mx" x="1532.32" y="373.44"/><use href="#mx" x="1533.21" y="376.11"/><use href="#mx" x="1469.92" y="375.22"/><use href="#mx" x="1469.92" y="377.9"/><use href="#mx" x="1478.83" y="381.47"/><use href="#mx" x="1459.23" y="385.92"/><use href="#mx" x="1529.64" y="384.14"/><use href="#mx" x="1543.02" y="387.7"/><use href="#mx" x="1548.36" y="385.39"/><use href="#mx" x="1561.73" y="403.75"/><use href="#mx" x="1548.36" y="408.56"/><use href="#mx" x="1559.06" y="422.83"/><use href="#mx" x="1466.89" y="414.44"/><use href="#mx" x="1439.08" y="418.36"/><use href="#mx" x="1463.32" y="428.71"/><use href="#mx" x="1453.88" y="433.16"/><use href="#mx" x="1449.42" y="432.27"/><use href="#mx" x="1460.12" y="439.94"/><use href="#mx" x="1450.85" y="445.28"/><use href="#mx" x="1455.13" y="447.42"/><use href="#mx" x="1455.13" y="454.2"/><use href="#mx" x="1460.12" y="454.2"/><use href="#mx" x="1468.14" y="456.34"/><use href="#mx" x="1469.03" y="458.48"/><use href="#mx" x="1493.63" y="425.68"/><use href="#mx" x="1497.91" y="429.6"/><use href="#mx" x="1499.34" y="435.84"/><use href="#mx" x="1482.4" y="436.73"/><use href="#mx" x="1485.08" y="441.19"/><use href="#mx" x="1495.77" y="443.86"/><use href="#mx" x="1483.3" y="447.42"/><use href="#mx" x="1477.94" y="449.21"/></g>
<polyline points="1386.77,381.42 1431.85,423.36 1465.71,457.16 1479.49,459.18 1492.03,456.68 1503.31,442.13 1470.7,407.03 1498.26,403.76 1550.89,422.59 1588.73,428.35" fill="none" stroke="#000" stroke-width="3" stroke-linejoin="miter"/>
<path d="M1487.75,428.35 C1488.67,428.95 1492.13,430.22 1493.27,431.97 C1494.42,433.73 1495.05,436.45 1494.64,438.86 C1494.23,441.28 1494.03,444.46 1490.84,446.47 C1487.65,448.48 1479.34,450.46 1475.51,450.92 C1471.69,451.39 1471.35,450.68 1467.91,449.26 C1464.48,447.83 1457.96,444.28 1454.9,442.37 C1451.84,440.46 1451.71,440.98 1449.56,437.79 C1447.4,434.61 1443.61,426.93 1441.95,423.24 C1440.3,419.55 1440.02,419.44 1439.64,415.64 C1439.25,411.84 1439.25,404.12 1439.64,400.43 C1440.02,396.74 1440.43,396.93 1441.95,393.48 C1443.48,390.04 1447.13,383.2 1448.78,379.76 C1450.44,376.33 1449.45,375.67 1451.87,372.87 C1454.3,370.07 1460.54,365.5 1463.34,362.95 C1466.13,360.4 1465.33,359.58 1468.62,357.55 C1471.92,355.51 1479.54,352.36 1483.12,350.71 C1486.69,349.07 1488.27,348.07 1490.07,347.68 C1491.86,347.3 1493.23,348.28 1493.87,348.4" fill="none" stroke="#108540" stroke-width="4.5" stroke-dasharray="16.1 6.93"/>
<path d="M1487.75,428.35 C1486.83,427.75 1483.37,426.48 1482.23,424.73 C1481.08,422.97 1480.45,420.25 1480.86,417.84 C1481.27,415.42 1481.47,412.24 1484.66,410.23 C1487.85,408.22 1496.16,406.24 1499.99,405.78 C1503.81,405.31 1504.15,406.02 1507.59,407.44 C1511.02,408.87 1517.54,412.42 1520.6,414.33 C1523.66,416.24 1523.79,415.72 1525.94,418.91 C1528.1,422.09 1531.89,429.77 1533.55,433.46 C1535.2,437.15 1535.48,437.26 1535.86,441.06 C1536.25,444.86 1536.25,452.58 1535.86,456.27 C1535.48,459.96 1535.07,459.77 1533.55,463.22 C1532.02,466.66 1528.37,473.5 1526.72,476.94 C1525.06,480.37 1526.05,481.03 1523.63,483.83 C1521.2,486.63 1514.96,491.2 1512.16,493.75 C1509.37,496.3 1510.17,497.12 1506.88,499.15 C1503.58,501.19 1495.96,504.34 1492.38,505.99 C1488.81,507.63 1487.23,508.63 1485.43,509.02 C1483.64,509.4 1482.27,508.42 1481.63,508.3" fill="none" stroke="#108540" stroke-width="4.5" stroke-dasharray="16.1 6.93"/>
</g>
<rect x="1394.05" y="334.65" width="187.4" height="187.4" fill="none" stroke="#cccccc" stroke-width="1.25"/>
<text x="1428.35" y="543.55" font-size="14.8" text-anchor="middle">−1</text>
<text x="1384.05" y="493.45" font-size="14.8" text-anchor="end">−1</text>
<text x="1487.75" y="543.55" font-size="14.8" text-anchor="middle">0</text>
<text x="1384.05" y="434.05" font-size="14.8" text-anchor="end">0</text>
<text x="1547.15" y="543.55" font-size="14.8" text-anchor="middle">1</text>
<text x="1384.05" y="374.65" font-size="14.8" text-anchor="end">1</text>
<text x="1731.1" y="326.85" font-size="21.5" text-anchor="middle">Accuracy: 0.898</text>
<g clip-path="url(#k16)">
<rect x="1637.4" y="334.65" width="187.4" height="187.4" fill="#f9ba85"/>
<polygon points="1630.12,422.41 1666.59,432.63 1700.15,448.96 1721.36,461.79 1754.56,446.7 1750.52,437.56 1747.73,436.19 1740.19,432.33 1721.36,425.56 1711.08,409.52 1714.47,404.89 1713.87,401.98 1717.38,400.91 1732.82,388.25 1762.05,406.61 1770.24,411.24 1794.06,432.15 1815.39,445.22 1816.64,452.11 1832.08,459.83 1829.8,527.05 1632.4,527.05" fill="#8fabd3"/>
<path d="M1671.5,334.65V522.05M1637.4,428.5H1824.8M1790.5,334.65V522.05" stroke="#3c3c3c" stroke-opacity="0.12" stroke-width="1" fill="none"/>
<path d="M1672.5,334.65V522.05M1637.4,427.5H1824.8M1791.5,334.65V522.05" stroke="#d7d7d7" stroke-opacity="0.3" stroke-width="1" fill="none"/>
<path d="M1637.4,487.5H1824.8M1637.4,488.5H1824.8M1730.5,334.65V522.05M1731.5,334.65V522.05M1637.4,368.5H1824.8M1637.4,369.5H1824.8" stroke="#a0a0a0" stroke-opacity="0.22" stroke-width="1" fill="none"/>
<g class="sb"><use href="#mo" x="1749.46" y="396.26"/><use href="#mo" x="1735.2" y="401.43"/><use href="#mo" x="1739.12" y="411.42"/><use href="#mo" x="1745.36" y="415.34"/><use href="#mo" x="1744.83" y="421.04"/><use href="#mo" x="1730.21" y="416.23"/><use href="#mo" x="1732.88" y="419.79"/><use href="#mo" x="1718.62" y="418.01"/><use href="#mo" x="1720.94" y="417.12"/><use href="#mo" x="1711.49" y="421.04"/><use href="#mo" x="1717.73" y="423.9"/><use href="#mo" x="1717.73" y="427.82"/><use href="#mo" x="1725.75" y="430.49"/><use href="#mo" x="1766.75" y="410.88"/><use href="#mo" x="1770.32" y="424.61"/><use href="#mo" x="1771.21" y="432.27"/><use href="#mo" x="1776.2" y="435.84"/><use href="#mo" x="1781.9" y="430.49"/><use href="#mo" x="1781.9" y="433.16"/><use href="#mo" x="1768" y="445.28"/><use href="#mo" x="1772.99" y="445.64"/><use href="#mo" x="1760.16" y="459.01"/><use href="#mo" x="1656.23" y="431.38"/><use href="#mo" x="1662.82" y="457.23"/><use href="#mo" x="1658.54" y="461.33"/><use href="#mo" x="1670.49" y="462.58"/><use href="#mo" x="1669.95" y="465.25"/><use href="#mo" x="1673.16" y="472.03"/><use href="#mo" x="1673.52" y="478.26"/><use href="#mo" x="1692.23" y="470.07"/><use href="#mo" x="1699.01" y="480.41"/><use href="#mo" x="1687.78" y="484.33"/><use href="#mo" x="1684.93" y="490.74"/><use href="#mo" x="1737.87" y="480.05"/><use href="#mo" x="1740.37" y="486.29"/><use href="#mo" x="1744.83" y="475.95"/><use href="#mo" x="1755.53" y="478.09"/><use href="#mo" x="1726.29" y="497.88"/></g>
<g class="so"><use href="#mx" x="1741.8" y="364"/><use href="#mx" x="1756.06" y="368.09"/><use href="#mx" x="1755.17" y="370.77"/><use href="#mx" x="1775.67" y="373.44"/><use href="#mx" x="1776.56" y="376.11"/><use href="#mx" x="1713.27" y="375.22"/><use href="#mx" x="1713.27" y="377.9"/><use href="#mx" x="1722.18" y="381.47"/><use href="#mx" x="1702.58" y="385.92"/><use href="#mx" x="1772.99" y="384.14"/><use href="#mx" x="1786.37" y="387.7"/><use href="#mx" x="1791.71" y="385.39"/><use href="#mx" x="1805.08" y="403.75"/><use href="#mx" x="1791.71" y="408.56"/><use href="#mx" x="1802.41" y="422.83"/><use href="#mx" x="1710.24" y="414.44"/><use href="#mx" x="1682.43" y="418.36"/><use href="#mx" x="1706.67" y="428.71"/><use href="#mx" x="1697.23" y="433.16"/><use href="#mx" x="1692.77" y="432.27"/><use href="#mx" x="1703.47" y="439.94"/><use href="#mx" x="1694.2" y="445.28"/><use href="#mx" x="1698.48" y="447.42"/><use href="#mx" x="1698.48" y="454.2"/><use href="#mx" x="1703.47" y="454.2"/><use href="#mx" x="1711.49" y="456.34"/><use href="#mx" x="1712.38" y="458.48"/><use href="#mx" x="1736.98" y="425.68"/><use href="#mx" x="1741.26" y="429.6"/><use href="#mx" x="1742.69" y="435.84"/><use href="#mx" x="1725.75" y="436.73"/><use href="#mx" x="1728.43" y="441.19"/><use href="#mx" x="1739.12" y="443.86"/><use href="#mx" x="1726.64" y="447.42"/><use href="#mx" x="1721.29" y="449.21"/></g>
<polyline points="1630.12,422.41 1666.59,432.63 1700.15,448.96 1721.36,461.79 1754.56,446.7 1750.52,437.56 1747.73,436.19 1740.19,432.33 1721.36,425.56 1711.08,409.52 1714.47,404.89 1713.87,401.98 1717.38,400.91 1732.82,388.25 1762.05,406.61 1770.24,411.24 1794.06,432.15 1815.39,445.22 1816.64,452.11 1832.08,459.83" fill="none" stroke="#000" stroke-width="3" stroke-linejoin="miter"/>
<path d="M1731.1,428.35 C1732.02,428.95 1735.48,430.22 1736.62,431.97 C1737.77,433.73 1738.4,436.45 1737.99,438.86 C1737.58,441.28 1737.38,444.46 1734.19,446.47 C1731,448.48 1722.68,450.46 1718.86,450.92 C1715.04,451.39 1714.7,450.68 1711.26,449.26 C1707.83,447.83 1701.31,444.28 1698.25,442.37 C1695.19,440.46 1695.06,440.98 1692.91,437.79 C1690.75,434.61 1686.96,426.93 1685.3,423.24 C1683.65,419.55 1683.37,419.44 1682.99,415.64 C1682.6,411.84 1682.6,404.12 1682.99,400.43 C1683.37,396.74 1683.78,396.93 1685.3,393.48 C1686.83,390.04 1690.48,383.2 1692.13,379.76 C1693.79,376.33 1692.8,375.67 1695.22,372.87 C1697.65,370.07 1703.89,365.5 1706.69,362.95 C1709.48,360.4 1708.68,359.58 1711.97,357.55 C1715.27,355.51 1722.89,352.36 1726.47,350.71 C1730.04,349.07 1731.62,348.07 1733.42,347.68 C1735.21,347.3 1736.58,348.28 1737.22,348.4" fill="none" stroke="#108540" stroke-width="4.5" stroke-dasharray="16.1 6.93"/>
<path d="M1731.1,428.35 C1730.18,427.75 1726.72,426.48 1725.58,424.73 C1724.43,422.97 1723.8,420.25 1724.21,417.84 C1724.62,415.42 1724.82,412.24 1728.01,410.23 C1731.2,408.22 1739.51,406.24 1743.34,405.78 C1747.16,405.31 1747.5,406.02 1750.94,407.44 C1754.37,408.87 1760.89,412.42 1763.95,414.33 C1767.01,416.24 1767.14,415.72 1769.29,418.91 C1771.45,422.09 1775.24,429.77 1776.9,433.46 C1778.55,437.15 1778.83,437.26 1779.21,441.06 C1779.6,444.86 1779.6,452.58 1779.21,456.27 C1778.83,459.96 1778.42,459.77 1776.9,463.22 C1775.37,466.66 1771.72,473.5 1770.07,476.94 C1768.41,480.37 1769.4,481.03 1766.98,483.83 C1764.55,486.63 1758.31,491.2 1755.51,493.75 C1752.72,496.3 1753.52,497.12 1750.23,499.15 C1746.93,501.19 1739.31,504.34 1735.73,505.99 C1732.16,507.63 1730.58,508.63 1728.78,509.02 C1726.99,509.4 1725.62,508.42 1724.98,508.3" fill="none" stroke="#108540" stroke-width="4.5" stroke-dasharray="16.1 6.93"/>
</g>
<rect x="1637.4" y="334.65" width="187.4" height="187.4" fill="none" stroke="#cccccc" stroke-width="1.25"/>
<text x="1671.7" y="543.55" font-size="14.8" text-anchor="middle">−1</text>
<text x="1627.4" y="493.45" font-size="14.8" text-anchor="end">−1</text>
<text x="1731.1" y="543.55" font-size="14.8" text-anchor="middle">0</text>
<text x="1627.4" y="434.05" font-size="14.8" text-anchor="end">0</text>
<text x="1790.5" y="543.55" font-size="14.8" text-anchor="middle">1</text>
<text x="1627.4" y="374.65" font-size="14.8" text-anchor="end">1</text>
<text x="271" y="570.2" font-size="21.5" text-anchor="middle">Accuracy: 0.830</text>
<g clip-path="url(#k20)">
<rect x="177.3" y="578" width="187.4" height="187.4" fill="#f9ba85"/>
<polygon points="170.02,647.35 258.53,698.43 279.91,699.62 262.98,650.91 265.65,647.94 293.87,643.54 371.98,712.69 369.7,770.4 172.3,770.4" fill="#8fabd3"/>
<path d="M211.5,578V765.4M177.3,671.5H364.7M330.5,578V765.4M177.3,612.5H364.7" stroke="#3c3c3c" stroke-opacity="0.12" stroke-width="1" fill="none"/>
<path d="M212.5,578V765.4M177.3,672.5H364.7M329.5,578V765.4M177.3,611.5H364.7" stroke="#d7d7d7" stroke-opacity="0.3" stroke-width="1" fill="none"/>
<path d="M177.3,730.5H364.7M177.3,731.5H364.7M270.5,578V765.4M271.5,578V765.4" stroke="#a0a0a0" stroke-opacity="0.22" stroke-width="1" fill="none"/>
<g class="sb"><use href="#mo" x="262.62" y="651.39"/><use href="#mo" x="273.32" y="649.6"/><use href="#mo" x="280.09" y="651.74"/><use href="#mo" x="289" y="649.07"/><use href="#mo" x="271.53" y="658.87"/><use href="#mo" x="273.32" y="662.79"/><use href="#mo" x="279.55" y="663.32"/><use href="#mo" x="279.02" y="666"/><use href="#mo" x="258.17" y="665.11"/><use href="#mo" x="262.27" y="668.14"/><use href="#mo" x="291.14" y="662.79"/><use href="#mo" x="299.16" y="662.79"/><use href="#mo" x="309.85" y="663.5"/><use href="#mo" x="276.88" y="671.7"/><use href="#mo" x="301.83" y="679.9"/><use href="#mo" x="306.29" y="678.83"/><use href="#mo" x="211.83" y="681.14"/><use href="#mo" x="221.63" y="680.25"/><use href="#mo" x="218.43" y="692.37"/><use href="#mo" x="220.74" y="693.62"/><use href="#mo" x="226.62" y="694.15"/><use href="#mo" x="232.68" y="692.73"/><use href="#mo" x="231.43" y="696.83"/><use href="#mo" x="300.05" y="690.05"/><use href="#mo" x="300.05" y="694.51"/><use href="#mo" x="294.34" y="692.37"/><use href="#mo" x="291.14" y="700.21"/><use href="#mo" x="282.58" y="703.07"/><use href="#mo" x="280.44" y="692.73"/><use href="#mo" x="223.06" y="707.88"/><use href="#mo" x="233.75" y="710.2"/><use href="#mo" x="251.93" y="709.13"/><use href="#mo" x="265.83" y="707.88"/><use href="#mo" x="273.32" y="711.44"/><use href="#mo" x="276.52" y="712.34"/><use href="#mo" x="266.19" y="715.54"/><use href="#mo" x="256.92" y="718.04"/><use href="#mo" x="235.89" y="724.27"/><use href="#mo" x="265.3" y="724.27"/></g>
<g class="so"><use href="#mx" x="282.23" y="620.02"/><use href="#mx" x="290.25" y="617.52"/><use href="#mx" x="290.78" y="621.8"/><use href="#mx" x="296.84" y="623.22"/><use href="#mx" x="296.13" y="629.46"/><use href="#mx" x="279.55" y="627.14"/><use href="#mx" x="261.73" y="625.9"/><use href="#mx" x="291.14" y="640.69"/><use href="#mx" x="309.85" y="641.93"/><use href="#mx" x="326.43" y="647.29"/><use href="#mx" x="333.02" y="652.1"/><use href="#mx" x="240.34" y="642.48"/><use href="#mx" x="245.7" y="642.83"/><use href="#mx" x="246.59" y="646.04"/><use href="#mx" x="248.72" y="647.82"/><use href="#mx" x="252.82" y="657.98"/><use href="#mx" x="239.45" y="661.54"/><use href="#mx" x="242.13" y="665.64"/><use href="#mx" x="244.45" y="672.23"/><use href="#mx" x="251.58" y="667.78"/><use href="#mx" x="253.71" y="678.47"/><use href="#mx" x="259.95" y="678.47"/><use href="#mx" x="256.39" y="682.04"/><use href="#mx" x="245.34" y="682.93"/><use href="#mx" x="267.08" y="675.8"/><use href="#mx" x="269.75" y="678.47"/><use href="#mx" x="267.97" y="682.93"/><use href="#mx" x="280.44" y="676.69"/><use href="#mx" x="285.43" y="682.39"/><use href="#mx" x="251.58" y="690.05"/><use href="#mx" x="267.97" y="694.51"/><use href="#mx" x="248.37" y="694.51"/><use href="#mx" x="271.89" y="702"/><use href="#mx" x="318.23" y="662.79"/></g>
<polyline points="170.02,647.35 258.53,698.43 279.91,699.62 262.98,650.91 265.65,647.94 293.87,643.54 371.98,712.69" fill="none" stroke="#000" stroke-width="3" stroke-linejoin="miter"/>
<path d="M271,671.7 C271.79,672.39 275.01,674.37 275.75,675.86 C276.49,677.34 275.95,679.12 275.45,680.61 C274.96,682.1 274.3,683.36 272.78,684.77 C271.27,686.17 269.9,689.02 266.37,689.04 C262.83,689.07 255.01,686.18 251.58,684.95 C248.14,683.71 248.11,684.39 245.75,681.62 C243.4,678.85 239.09,671.91 237.44,668.31 C235.79,664.72 235.55,663.77 235.84,660.06 C236.12,656.35 238.06,649.76 239.16,646.04 C240.26,642.32 240.51,641.04 242.43,637.72 C244.35,634.41 248.35,628.89 250.69,626.14 C253.02,623.39 253.13,623 256.45,621.21 C259.76,619.42 268.23,616.36 270.58,615.39" fill="none" stroke="#108540" stroke-width="4.5" stroke-dasharray="16.1 6.93"/>
<path d="M271,671.7 C270.21,671.01 266.99,669.03 266.25,667.54 C265.51,666.06 266.05,664.28 266.55,662.79 C267.04,661.31 267.7,660.04 269.22,658.63 C270.73,657.23 272.1,654.38 275.63,654.36 C279.17,654.33 286.99,657.22 290.42,658.45 C293.86,659.69 293.89,659.01 296.25,661.78 C298.6,664.55 302.91,671.49 304.56,675.09 C306.21,678.68 306.45,679.63 306.16,683.34 C305.88,687.05 303.94,693.64 302.84,697.36 C301.74,701.08 301.49,702.36 299.57,705.68 C297.65,708.99 293.65,714.51 291.31,717.26 C288.98,720.01 288.87,720.4 285.55,722.19 C282.24,723.98 273.77,727.04 271.42,728.01" fill="none" stroke="#108540" stroke-width="4.5" stroke-dasharray="16.1 6.93"/>
</g>
<rect x="177.3" y="578" width="187.4" height="187.4" fill="none" stroke="#cccccc" stroke-width="1.25"/>
<text x="211.6" y="786.9" font-size="14.8" text-anchor="middle">−1</text>
<text x="167.3" y="736.8" font-size="14.8" text-anchor="end">−1</text>
<text x="271" y="786.9" font-size="14.8" text-anchor="middle">0</text>
<text x="167.3" y="677.4" font-size="14.8" text-anchor="end">0</text>
<text x="330.4" y="786.9" font-size="14.8" text-anchor="middle">1</text>
<text x="167.3" y="618" font-size="14.8" text-anchor="end">1</text>
<text x="514.35" y="570.2" font-size="21.5" text-anchor="middle">Accuracy: 0.610</text>
<g clip-path="url(#k21)">
<rect x="420.65" y="578" width="187.4" height="187.4" fill="#f9ba85"/>
<polygon points="413.37,702.59 526.41,658.39 530.21,657.86 562.94,668.91 615.33,674.08 613.05,770.4 415.65,770.4" fill="#8fabd3"/>
<path d="M514.5,578V765.4M420.65,671.5H608.05M420.65,612.5H608.05" stroke="#3c3c3c" stroke-opacity="0.12" stroke-width="1" fill="none"/>
<path d="M513.5,578V765.4M420.65,672.5H608.05M420.65,611.5H608.05" stroke="#d7d7d7" stroke-opacity="0.3" stroke-width="1" fill="none"/>
<path d="M454.5,578V765.4M455.5,578V765.4M420.65,730.5H608.05M420.65,731.5H608.05M573.5,578V765.4M574.5,578V765.4" stroke="#a0a0a0" stroke-opacity="0.22" stroke-width="1" fill="none"/>
<g class="sb"><use href="#mo" x="505.97" y="651.39"/><use href="#mo" x="516.67" y="649.6"/><use href="#mo" x="523.44" y="651.74"/><use href="#mo" x="532.35" y="649.07"/><use href="#mo" x="514.88" y="658.87"/><use href="#mo" x="516.67" y="662.79"/><use href="#mo" x="522.9" y="663.32"/><use href="#mo" x="522.37" y="666"/><use href="#mo" x="501.52" y="665.11"/><use href="#mo" x="505.62" y="668.14"/><use href="#mo" x="534.49" y="662.79"/><use href="#mo" x="542.51" y="662.79"/><use href="#mo" x="553.2" y="663.5"/><use href="#mo" x="520.23" y="671.7"/><use href="#mo" x="545.18" y="679.9"/><use href="#mo" x="549.64" y="678.83"/><use href="#mo" x="455.18" y="681.14"/><use href="#mo" x="464.98" y="680.25"/><use href="#mo" x="461.78" y="692.37"/><use href="#mo" x="464.09" y="693.62"/><use href="#mo" x="469.97" y="694.15"/><use href="#mo" x="476.03" y="692.73"/><use href="#mo" x="474.78" y="696.83"/><use href="#mo" x="543.4" y="690.05"/><use href="#mo" x="543.4" y="694.51"/><use href="#mo" x="537.69" y="692.37"/><use href="#mo" x="534.49" y="700.21"/><use href="#mo" x="525.93" y="703.07"/><use href="#mo" x="523.79" y="692.73"/><use href="#mo" x="466.41" y="707.88"/><use href="#mo" x="477.1" y="710.2"/><use href="#mo" x="495.28" y="709.13"/><use href="#mo" x="509.18" y="707.88"/><use href="#mo" x="516.67" y="711.44"/><use href="#mo" x="519.87" y="712.34"/><use href="#mo" x="509.54" y="715.54"/><use href="#mo" x="500.27" y="718.04"/><use href="#mo" x="479.24" y="724.27"/><use href="#mo" x="508.65" y="724.27"/></g>
<g class="so"><use href="#mx" x="525.58" y="620.02"/><use href="#mx" x="533.6" y="617.52"/><use href="#mx" x="534.13" y="621.8"/><use href="#mx" x="540.19" y="623.22"/><use href="#mx" x="539.48" y="629.46"/><use href="#mx" x="522.9" y="627.14"/><use href="#mx" x="505.08" y="625.9"/><use href="#mx" x="534.49" y="640.69"/><use href="#mx" x="553.2" y="641.93"/><use href="#mx" x="569.78" y="647.29"/><use href="#mx" x="576.37" y="652.1"/><use href="#mx" x="483.69" y="642.48"/><use href="#mx" x="489.05" y="642.83"/><use href="#mx" x="489.94" y="646.04"/><use href="#mx" x="492.08" y="647.82"/><use href="#mx" x="496.17" y="657.98"/><use href="#mx" x="482.8" y="661.54"/><use href="#mx" x="485.48" y="665.64"/><use href="#mx" x="487.8" y="672.23"/><use href="#mx" x="494.93" y="667.78"/><use href="#mx" x="497.06" y="678.47"/><use href="#mx" x="503.3" y="678.47"/><use href="#mx" x="499.74" y="682.04"/><use href="#mx" x="488.69" y="682.93"/><use href="#mx" x="510.43" y="675.8"/><use href="#mx" x="513.1" y="678.47"/><use href="#mx" x="511.32" y="682.93"/><use href="#mx" x="523.79" y="676.69"/><use href="#mx" x="528.78" y="682.39"/><use href="#mx" x="494.93" y="690.05"/><use href="#mx" x="511.32" y="694.51"/><use href="#mx" x="491.72" y="694.51"/><use href="#mx" x="515.24" y="702"/><use href="#mx" x="561.58" y="662.79"/></g>
<polyline points="413.37,702.59 526.41,658.39 530.21,657.86 562.94,668.91 615.33,674.08" fill="none" stroke="#000" stroke-width="3" stroke-linejoin="miter"/>
<path d="M514.35,671.7 C515.14,672.39 518.36,674.37 519.1,675.86 C519.84,677.34 519.3,679.12 518.81,680.61 C518.31,682.1 517.65,683.36 516.13,684.77 C514.62,686.17 513.25,689.02 509.72,689.04 C506.18,689.07 498.36,686.18 494.93,684.95 C491.49,683.71 491.46,684.39 489.11,681.62 C486.75,678.85 482.44,671.91 480.79,668.31 C479.14,664.72 478.9,663.77 479.19,660.06 C479.47,656.35 481.41,649.76 482.51,646.04 C483.61,642.32 483.86,641.04 485.78,637.72 C487.7,634.41 491.7,628.89 494.04,626.14 C496.37,623.39 496.48,623 499.8,621.21 C503.11,619.42 511.58,616.36 513.93,615.39" fill="none" stroke="#108540" stroke-width="4.5" stroke-dasharray="16.1 6.93"/>
<path d="M514.35,671.7 C513.56,671.01 510.34,669.03 509.6,667.54 C508.86,666.06 509.4,664.28 509.9,662.79 C510.39,661.31 511.05,660.04 512.57,658.63 C514.08,657.23 515.45,654.38 518.98,654.36 C522.52,654.33 530.34,657.22 533.77,658.45 C537.21,659.69 537.24,659.01 539.6,661.78 C541.95,664.55 546.26,671.49 547.91,675.09 C549.56,678.68 549.8,679.63 549.51,683.34 C549.23,687.05 547.29,693.64 546.19,697.36 C545.09,701.08 544.84,702.36 542.92,705.68 C541,708.99 537,714.51 534.66,717.26 C532.33,720.01 532.22,720.4 528.9,722.19 C525.59,723.98 517.12,727.04 514.77,728.01" fill="none" stroke="#108540" stroke-width="4.5" stroke-dasharray="16.1 6.93"/>
</g>
<rect x="420.65" y="578" width="187.4" height="187.4" fill="none" stroke="#cccccc" stroke-width="1.25"/>
<text x="454.95" y="786.9" font-size="14.8" text-anchor="middle">−1</text>
<text x="410.65" y="736.8" font-size="14.8" text-anchor="end">−1</text>
<text x="514.35" y="786.9" font-size="14.8" text-anchor="middle">0</text>
<text x="410.65" y="677.4" font-size="14.8" text-anchor="end">0</text>
<text x="573.75" y="786.9" font-size="14.8" text-anchor="middle">1</text>
<text x="410.65" y="618" font-size="14.8" text-anchor="end">1</text>
<text x="757.7" y="570.2" font-size="21.5" text-anchor="middle">Accuracy: 0.630</text>
<g clip-path="url(#k22)">
<rect x="664" y="578" width="187.4" height="187.4" fill="#f9ba85"/>
<polygon points="656.72,658.93 698.06,660.95 733.11,663.44 754.43,664.16 757.7,657.92 761.2,654.18 768.21,655.42 781.99,657.92 808.31,656.67 833.38,654.89 858.68,651.5 856.4,770.4 659,770.4" fill="#8fabd3"/>
<path d="M698.5,578V765.4M757.5,578V765.4M664,671.5H851.4M664,612.5H851.4" stroke="#3c3c3c" stroke-opacity="0.12" stroke-width="1" fill="none"/>
<path d="M697.5,578V765.4M758.5,578V765.4M664,672.5H851.4M664,611.5H851.4" stroke="#d7d7d7" stroke-opacity="0.3" stroke-width="1" fill="none"/>
<path d="M664,730.5H851.4M664,731.5H851.4M816.5,578V765.4M817.5,578V765.4" stroke="#a0a0a0" stroke-opacity="0.22" stroke-width="1" fill="none"/>
<g class="sb"><use href="#mo" x="749.32" y="651.39"/><use href="#mo" x="760.02" y="649.6"/><use href="#mo" x="766.79" y="651.74"/><use href="#mo" x="775.7" y="649.07"/><use href="#mo" x="758.23" y="658.87"/><use href="#mo" x="760.02" y="662.79"/><use href="#mo" x="766.25" y="663.32"/><use href="#mo" x="765.72" y="666"/><use href="#mo" x="744.87" y="665.11"/><use href="#mo" x="748.97" y="668.14"/><use href="#mo" x="777.84" y="662.79"/><use href="#mo" x="785.86" y="662.79"/><use href="#mo" x="796.55" y="663.5"/><use href="#mo" x="763.58" y="671.7"/><use href="#mo" x="788.53" y="679.9"/><use href="#mo" x="792.99" y="678.83"/><use href="#mo" x="698.53" y="681.14"/><use href="#mo" x="708.33" y="680.25"/><use href="#mo" x="705.13" y="692.37"/><use href="#mo" x="707.44" y="693.62"/><use href="#mo" x="713.32" y="694.15"/><use href="#mo" x="719.38" y="692.73"/><use href="#mo" x="718.13" y="696.83"/><use href="#mo" x="786.75" y="690.05"/><use href="#mo" x="786.75" y="694.51"/><use href="#mo" x="781.04" y="692.37"/><use href="#mo" x="777.84" y="700.21"/><use href="#mo" x="769.28" y="703.07"/><use href="#mo" x="767.14" y="692.73"/><use href="#mo" x="709.76" y="707.88"/><use href="#mo" x="720.45" y="710.2"/><use href="#mo" x="738.63" y="709.13"/><use href="#mo" x="752.53" y="707.88"/><use href="#mo" x="760.02" y="711.44"/><use href="#mo" x="763.22" y="712.34"/><use href="#mo" x="752.89" y="715.54"/><use href="#mo" x="743.62" y="718.04"/><use href="#mo" x="722.59" y="724.27"/><use href="#mo" x="752" y="724.27"/></g>
<g class="so"><use href="#mx" x="768.93" y="620.02"/><use href="#mx" x="776.95" y="617.52"/><use href="#mx" x="777.48" y="621.8"/><use href="#mx" x="783.54" y="623.22"/><use href="#mx" x="782.83" y="629.46"/><use href="#mx" x="766.25" y="627.14"/><use href="#mx" x="748.43" y="625.9"/><use href="#mx" x="777.84" y="640.69"/><use href="#mx" x="796.55" y="641.93"/><use href="#mx" x="813.13" y="647.29"/><use href="#mx" x="819.72" y="652.1"/><use href="#mx" x="727.04" y="642.48"/><use href="#mx" x="732.4" y="642.83"/><use href="#mx" x="733.29" y="646.04"/><use href="#mx" x="735.43" y="647.82"/><use href="#mx" x="739.52" y="657.98"/><use href="#mx" x="726.15" y="661.54"/><use href="#mx" x="728.83" y="665.64"/><use href="#mx" x="731.15" y="672.23"/><use href="#mx" x="738.28" y="667.78"/><use href="#mx" x="740.41" y="678.47"/><use href="#mx" x="746.65" y="678.47"/><use href="#mx" x="743.09" y="682.04"/><use href="#mx" x="732.04" y="682.93"/><use href="#mx" x="753.78" y="675.8"/><use href="#mx" x="756.45" y="678.47"/><use href="#mx" x="754.67" y="682.93"/><use href="#mx" x="767.14" y="676.69"/><use href="#mx" x="772.13" y="682.39"/><use href="#mx" x="738.28" y="690.05"/><use href="#mx" x="754.67" y="694.51"/><use href="#mx" x="735.07" y="694.51"/><use href="#mx" x="758.59" y="702"/><use href="#mx" x="804.93" y="662.79"/></g>
<polyline points="656.72,658.93 698.06,660.95 733.11,663.44 754.43,664.16 757.7,657.92 761.2,654.18 768.21,655.42 781.99,657.92 808.31,656.67 833.38,654.89 858.68,651.5" fill="none" stroke="#000" stroke-width="3" stroke-linejoin="miter"/>
<path d="M757.7,671.7 C758.49,672.39 761.71,674.37 762.45,675.86 C763.19,677.34 762.65,679.12 762.16,680.61 C761.66,682.1 761,683.36 759.48,684.77 C757.97,686.17 756.6,689.02 753.07,689.04 C749.53,689.07 741.71,686.18 738.28,684.95 C734.84,683.71 734.81,684.39 732.46,681.62 C730.1,678.85 725.79,671.91 724.14,668.31 C722.49,664.72 722.25,663.77 722.54,660.06 C722.82,656.35 724.76,649.76 725.86,646.04 C726.96,642.32 727.21,641.04 729.13,637.72 C731.05,634.41 735.05,628.89 737.39,626.14 C739.72,623.39 739.83,623 743.15,621.21 C746.46,619.42 754.93,616.36 757.28,615.39" fill="none" stroke="#108540" stroke-width="4.5" stroke-dasharray="16.1 6.93"/>
<path d="M757.7,671.7 C756.91,671.01 753.69,669.03 752.95,667.54 C752.21,666.06 752.75,664.28 753.25,662.79 C753.74,661.31 754.4,660.04 755.92,658.63 C757.43,657.23 758.8,654.38 762.33,654.36 C765.87,654.33 773.69,657.22 777.12,658.45 C780.56,659.69 780.59,659.01 782.95,661.78 C785.3,664.55 789.61,671.49 791.26,675.09 C792.91,678.68 793.15,679.63 792.86,683.34 C792.58,687.05 790.64,693.64 789.54,697.36 C788.44,701.08 788.19,702.36 786.27,705.68 C784.35,708.99 780.35,714.51 778.01,717.26 C775.68,720.01 775.57,720.4 772.25,722.19 C768.94,723.98 760.47,727.04 758.12,728.01" fill="none" stroke="#108540" stroke-width="4.5" stroke-dasharray="16.1 6.93"/>
</g>
<rect x="664" y="578" width="187.4" height="187.4" fill="none" stroke="#cccccc" stroke-width="1.25"/>
<text x="698.3" y="786.9" font-size="14.8" text-anchor="middle">−1</text>
<text x="654" y="736.8" font-size="14.8" text-anchor="end">−1</text>
<text x="757.7" y="786.9" font-size="14.8" text-anchor="middle">0</text>
<text x="654" y="677.4" font-size="14.8" text-anchor="end">0</text>
<text x="817.1" y="786.9" font-size="14.8" text-anchor="middle">1</text>
<text x="654" y="618" font-size="14.8" text-anchor="end">1</text>
<text x="1001.05" y="570.2" font-size="21.5" text-anchor="middle">Accuracy: 0.883</text>
<g clip-path="url(#k23)">
<rect x="907.35" y="578" width="187.4" height="187.4" fill="#f9ba85"/>
<polygon points="900.07,647.94 986.02,701.04 1011.09,694.98 1017.86,686.73 966.72,630.83 1054.93,670.45 1102.03,668.14 1099.75,770.4 902.35,770.4" fill="#8fabd3"/>
<path d="M941.5,578V765.4M907.35,671.5H1094.75M1060.5,578V765.4M907.35,612.5H1094.75" stroke="#3c3c3c" stroke-opacity="0.12" stroke-width="1" fill="none"/>
<path d="M942.5,578V765.4M907.35,672.5H1094.75M1059.5,578V765.4M907.35,611.5H1094.75" stroke="#d7d7d7" stroke-opacity="0.3" stroke-width="1" fill="none"/>
<path d="M907.35,730.5H1094.75M907.35,731.5H1094.75M1000.5,578V765.4M1001.5,578V765.4" stroke="#a0a0a0" stroke-opacity="0.22" stroke-width="1" fill="none"/>
<g class="sb"><use href="#mo" x="992.67" y="651.39"/><use href="#mo" x="1003.37" y="649.6"/><use href="#mo" x="1010.14" y="651.74"/><use href="#mo" x="1019.05" y="649.07"/><use href="#mo" x="1001.58" y="658.87"/><use href="#mo" x="1003.37" y="662.79"/><use href="#mo" x="1009.6" y="663.32"/><use href="#mo" x="1009.07" y="666"/><use href="#mo" x="988.22" y="665.11"/><use href="#mo" x="992.32" y="668.14"/><use href="#mo" x="1021.19" y="662.79"/><use href="#mo" x="1029.21" y="662.79"/><use href="#mo" x="1039.9" y="663.5"/><use href="#mo" x="1006.93" y="671.7"/><use href="#mo" x="1031.88" y="679.9"/><use href="#mo" x="1036.34" y="678.83"/><use href="#mo" x="941.88" y="681.14"/><use href="#mo" x="951.68" y="680.25"/><use href="#mo" x="948.48" y="692.37"/><use href="#mo" x="950.79" y="693.62"/><use href="#mo" x="956.67" y="694.15"/><use href="#mo" x="962.73" y="692.73"/><use href="#mo" x="961.48" y="696.83"/><use href="#mo" x="1030.1" y="690.05"/><use href="#mo" x="1030.1" y="694.51"/><use href="#mo" x="1024.39" y="692.37"/><use href="#mo" x="1021.19" y="700.21"/><use href="#mo" x="1012.63" y="703.07"/><use href="#mo" x="1010.49" y="692.73"/><use href="#mo" x="953.11" y="707.88"/><use href="#mo" x="963.8" y="710.2"/><use href="#mo" x="981.98" y="709.13"/><use href="#mo" x="995.88" y="707.88"/><use href="#mo" x="1003.37" y="711.44"/><use href="#mo" x="1006.57" y="712.34"/><use href="#mo" x="996.24" y="715.54"/><use href="#mo" x="986.97" y="718.04"/><use href="#mo" x="965.94" y="724.27"/><use href="#mo" x="995.35" y="724.27"/></g>
<g class="so"><use href="#mx" x="1012.28" y="620.02"/><use href="#mx" x="1020.3" y="617.52"/><use href="#mx" x="1020.83" y="621.8"/><use href="#mx" x="1026.89" y="623.22"/><use href="#mx" x="1026.18" y="629.46"/><use href="#mx" x="1009.6" y="627.14"/><use href="#mx" x="991.78" y="625.9"/><use href="#mx" x="1021.19" y="640.69"/><use href="#mx" x="1039.9" y="641.93"/><use href="#mx" x="1056.48" y="647.29"/><use href="#mx" x="1063.07" y="652.1"/><use href="#mx" x="970.39" y="642.48"/><use href="#mx" x="975.75" y="642.83"/><use href="#mx" x="976.64" y="646.04"/><use href="#mx" x="978.77" y="647.82"/><use href="#mx" x="982.87" y="657.98"/><use href="#mx" x="969.5" y="661.54"/><use href="#mx" x="972.18" y="665.64"/><use href="#mx" x="974.5" y="672.23"/><use href="#mx" x="981.63" y="667.78"/><use href="#mx" x="983.76" y="678.47"/><use href="#mx" x="990" y="678.47"/><use href="#mx" x="986.44" y="682.04"/><use href="#mx" x="975.39" y="682.93"/><use href="#mx" x="997.13" y="675.8"/><use href="#mx" x="999.8" y="678.47"/><use href="#mx" x="998.02" y="682.93"/><use href="#mx" x="1010.49" y="676.69"/><use href="#mx" x="1015.48" y="682.39"/><use href="#mx" x="981.63" y="690.05"/><use href="#mx" x="998.02" y="694.51"/><use href="#mx" x="978.42" y="694.51"/><use href="#mx" x="1001.94" y="702"/><use href="#mx" x="1048.28" y="662.79"/></g>
<polyline points="900.07,647.94 986.02,701.04 1011.09,694.98 1017.86,686.73 966.72,630.83 1054.93,670.45 1102.03,668.14" fill="none" stroke="#000" stroke-width="3" stroke-linejoin="miter"/>
<path d="M1001.05,671.7 C1001.84,672.39 1005.06,674.37 1005.8,675.86 C1006.54,677.34 1006,679.12 1005.5,680.61 C1005.01,682.1 1004.35,683.36 1002.83,684.77 C1001.32,686.17 999.95,689.02 996.42,689.04 C992.88,689.07 985.06,686.18 981.63,684.95 C978.19,683.71 978.16,684.39 975.8,681.62 C973.45,678.85 969.14,671.91 967.49,668.31 C965.84,664.72 965.6,663.77 965.89,660.06 C966.17,656.35 968.11,649.76 969.21,646.04 C970.31,642.32 970.56,641.04 972.48,637.72 C974.4,634.41 978.4,628.89 980.74,626.14 C983.07,623.39 983.18,623 986.5,621.21 C989.81,619.42 998.28,616.36 1000.63,615.39" fill="none" stroke="#108540" stroke-width="4.5" stroke-dasharray="16.1 6.93"/>
<path d="M1001.05,671.7 C1000.26,671.01 997.04,669.03 996.3,667.54 C995.56,666.06 996.1,664.28 996.59,662.79 C997.09,661.31 997.75,660.04 999.27,658.63 C1000.78,657.23 1002.15,654.38 1005.68,654.36 C1009.22,654.33 1017.04,657.22 1020.47,658.45 C1023.91,659.69 1023.94,659.01 1026.29,661.78 C1028.65,664.55 1032.96,671.49 1034.61,675.09 C1036.26,678.68 1036.5,679.63 1036.21,683.34 C1035.93,687.05 1033.99,693.64 1032.89,697.36 C1031.79,701.08 1031.54,702.36 1029.62,705.68 C1027.7,708.99 1023.7,714.51 1021.36,717.26 C1019.03,720.01 1018.92,720.4 1015.6,722.19 C1012.29,723.98 1003.82,727.04 1001.47,728.01" fill="none" stroke="#108540" stroke-width="4.5" stroke-dasharray="16.1 6.93"/>
</g>
<rect x="907.35" y="578" width="187.4" height="187.4" fill="none" stroke="#cccccc" stroke-width="1.25"/>
<text x="941.65" y="786.9" font-size="14.8" text-anchor="middle">−1</text>
<text x="897.35" y="736.8" font-size="14.8" text-anchor="end">−1</text>
<text x="1001.05" y="786.9" font-size="14.8" text-anchor="middle">0</text>
<text x="897.35" y="677.4" font-size="14.8" text-anchor="end">0</text>
<text x="1060.45" y="786.9" font-size="14.8" text-anchor="middle">1</text>
<text x="897.35" y="618" font-size="14.8" text-anchor="end">1</text>
<text x="1244.4" y="570.2" font-size="21.5" text-anchor="middle">Accuracy: 0.880</text>
<g clip-path="url(#k24)">
<rect x="1150.7" y="578" width="187.4" height="187.4" fill="#f9ba85"/>
<polygon points="1143.42,626.56 1220.11,699.26 1241.37,701.76 1250.16,698.01 1256.93,685.48 1221.35,644.14 1257.71,647.11 1302.79,665.46 1345.38,669.03 1343.1,770.4 1145.7,770.4" fill="#8fabd3"/>
<path d="M1244.5,578V765.4M1150.7,671.5H1338.1M1150.7,612.5H1338.1" stroke="#3c3c3c" stroke-opacity="0.12" stroke-width="1" fill="none"/>
<path d="M1243.5,578V765.4M1150.7,672.5H1338.1M1150.7,611.5H1338.1" stroke="#d7d7d7" stroke-opacity="0.3" stroke-width="1" fill="none"/>
<path d="M1184.5,578V765.4M1185.5,578V765.4M1150.7,730.5H1338.1M1150.7,731.5H1338.1M1303.5,578V765.4M1304.5,578V765.4" stroke="#a0a0a0" stroke-opacity="0.22" stroke-width="1" fill="none"/>
<g class="sb"><use href="#mo" x="1236.02" y="651.39"/><use href="#mo" x="1246.72" y="649.6"/><use href="#mo" x="1253.49" y="651.74"/><use href="#mo" x="1262.4" y="649.07"/><use href="#mo" x="1244.93" y="658.87"/><use href="#mo" x="1246.72" y="662.79"/><use href="#mo" x="1252.95" y="663.32"/><use href="#mo" x="1252.42" y="666"/><use href="#mo" x="1231.57" y="665.11"/><use href="#mo" x="1235.67" y="668.14"/><use href="#mo" x="1264.54" y="662.79"/><use href="#mo" x="1272.56" y="662.79"/><use href="#mo" x="1283.25" y="663.5"/><use href="#mo" x="1250.28" y="671.7"/><use href="#mo" x="1275.23" y="679.9"/><use href="#mo" x="1279.69" y="678.83"/><use href="#mo" x="1185.23" y="681.14"/><use href="#mo" x="1195.03" y="680.25"/><use href="#mo" x="1191.83" y="692.37"/><use href="#mo" x="1194.14" y="693.62"/><use href="#mo" x="1200.02" y="694.15"/><use href="#mo" x="1206.08" y="692.73"/><use href="#mo" x="1204.83" y="696.83"/><use href="#mo" x="1273.45" y="690.05"/><use href="#mo" x="1273.45" y="694.51"/><use href="#mo" x="1267.74" y="692.37"/><use href="#mo" x="1264.54" y="700.21"/><use href="#mo" x="1255.98" y="703.07"/><use href="#mo" x="1253.84" y="692.73"/><use href="#mo" x="1196.46" y="707.88"/><use href="#mo" x="1207.15" y="710.2"/><use href="#mo" x="1225.33" y="709.13"/><use href="#mo" x="1239.23" y="707.88"/><use href="#mo" x="1246.72" y="711.44"/><use href="#mo" x="1249.92" y="712.34"/><use href="#mo" x="1239.59" y="715.54"/><use href="#mo" x="1230.32" y="718.04"/><use href="#mo" x="1209.29" y="724.27"/><use href="#mo" x="1238.7" y="724.27"/></g>
<g class="so"><use href="#mx" x="1255.63" y="620.02"/><use href="#mx" x="1263.65" y="617.52"/><use href="#mx" x="1264.18" y="621.8"/><use href="#mx" x="1270.24" y="623.22"/><use href="#mx" x="1269.53" y="629.46"/><use href="#mx" x="1252.95" y="627.14"/><use href="#mx" x="1235.13" y="625.9"/><use href="#mx" x="1264.54" y="640.69"/><use href="#mx" x="1283.25" y="641.93"/><use href="#mx" x="1299.83" y="647.29"/><use href="#mx" x="1306.42" y="652.1"/><use href="#mx" x="1213.74" y="642.48"/><use href="#mx" x="1219.1" y="642.83"/><use href="#mx" x="1219.99" y="646.04"/><use href="#mx" x="1222.12" y="647.82"/><use href="#mx" x="1226.22" y="657.98"/><use href="#mx" x="1212.85" y="661.54"/><use href="#mx" x="1215.53" y="665.64"/><use href="#mx" x="1217.85" y="672.23"/><use href="#mx" x="1224.98" y="667.78"/><use href="#mx" x="1227.11" y="678.47"/><use href="#mx" x="1233.35" y="678.47"/><use href="#mx" x="1229.79" y="682.04"/><use href="#mx" x="1218.74" y="682.93"/><use href="#mx" x="1240.48" y="675.8"/><use href="#mx" x="1243.15" y="678.47"/><use href="#mx" x="1241.37" y="682.93"/><use href="#mx" x="1253.84" y="676.69"/><use href="#mx" x="1258.83" y="682.39"/><use href="#mx" x="1224.98" y="690.05"/><use href="#mx" x="1241.37" y="694.51"/><use href="#mx" x="1221.77" y="694.51"/><use href="#mx" x="1245.29" y="702"/><use href="#mx" x="1291.63" y="662.79"/></g>
<polyline points="1143.42,626.56 1220.11,699.26 1241.37,701.76 1250.16,698.01 1256.93,685.48 1221.35,644.14 1257.71,647.11 1302.79,665.46 1345.38,669.03" fill="none" stroke="#000" stroke-width="3" stroke-linejoin="miter"/>
<path d="M1244.4,671.7 C1245.19,672.39 1248.41,674.37 1249.15,675.86 C1249.89,677.34 1249.35,679.12 1248.86,680.61 C1248.36,682.1 1247.7,683.36 1246.18,684.77 C1244.67,686.17 1243.3,689.02 1239.77,689.04 C1236.23,689.07 1228.41,686.18 1224.98,684.95 C1221.54,683.71 1221.51,684.39 1219.16,681.62 C1216.8,678.85 1212.49,671.91 1210.84,668.31 C1209.19,664.72 1208.95,663.77 1209.24,660.06 C1209.52,656.35 1211.46,649.76 1212.56,646.04 C1213.66,642.32 1213.91,641.04 1215.83,637.72 C1217.75,634.41 1221.75,628.89 1224.09,626.14 C1226.42,623.39 1226.53,623 1229.85,621.21 C1233.16,619.42 1241.63,616.36 1243.98,615.39" fill="none" stroke="#108540" stroke-width="4.5" stroke-dasharray="16.1 6.93"/>
<path d="M1244.4,671.7 C1243.61,671.01 1240.39,669.03 1239.65,667.54 C1238.91,666.06 1239.45,664.28 1239.95,662.79 C1240.44,661.31 1241.1,660.04 1242.62,658.63 C1244.13,657.23 1245.5,654.38 1249.03,654.36 C1252.57,654.33 1260.39,657.22 1263.82,658.45 C1267.26,659.69 1267.29,659.01 1269.64,661.78 C1272,664.55 1276.31,671.49 1277.96,675.09 C1279.61,678.68 1279.85,679.63 1279.56,683.34 C1279.28,687.05 1277.34,693.64 1276.24,697.36 C1275.14,701.08 1274.89,702.36 1272.97,705.68 C1271.05,708.99 1267.05,714.51 1264.71,717.26 C1262.38,720.01 1262.27,720.4 1258.95,722.19 C1255.64,723.98 1247.17,727.04 1244.82,728.01" fill="none" stroke="#108540" stroke-width="4.5" stroke-dasharray="16.1 6.93"/>
</g>
<rect x="1150.7" y="578" width="187.4" height="187.4" fill="none" stroke="#cccccc" stroke-width="1.25"/>
<text x="1185" y="786.9" font-size="14.8" text-anchor="middle">−1</text>
<text x="1140.7" y="736.8" font-size="14.8" text-anchor="end">−1</text>
<text x="1244.4" y="786.9" font-size="14.8" text-anchor="middle">0</text>
<text x="1140.7" y="677.4" font-size="14.8" text-anchor="end">0</text>
<text x="1303.8" y="786.9" font-size="14.8" text-anchor="middle">1</text>
<text x="1140.7" y="618" font-size="14.8" text-anchor="end">1</text>
<text x="1487.75" y="570.2" font-size="21.5" text-anchor="middle">Accuracy: 0.850</text>
<g clip-path="url(#k25)">
<rect x="1394.05" y="578" width="187.4" height="187.4" fill="#f9ba85"/>
<polygon points="1386.77,624.77 1431.85,666.71 1465.71,700.51 1479.49,702.53 1492.03,700.03 1503.31,685.48 1470.7,650.38 1498.26,647.11 1550.89,665.94 1588.73,671.7 1586.45,770.4 1389.05,770.4" fill="#8fabd3"/>
<path d="M1428.5,578V765.4M1394.05,671.5H1581.45M1394.05,612.5H1581.45" stroke="#3c3c3c" stroke-opacity="0.12" stroke-width="1" fill="none"/>
<path d="M1427.5,578V765.4M1394.05,672.5H1581.45M1394.05,611.5H1581.45" stroke="#d7d7d7" stroke-opacity="0.3" stroke-width="1" fill="none"/>
<path d="M1394.05,730.5H1581.45M1394.05,731.5H1581.45M1487.5,578V765.4M1488.5,578V765.4M1546.5,578V765.4M1547.5,578V765.4" stroke="#a0a0a0" stroke-opacity="0.22" stroke-width="1" fill="none"/>
<g class="sb"><use href="#mo" x="1479.37" y="651.39"/><use href="#mo" x="1490.07" y="649.6"/><use href="#mo" x="1496.84" y="651.74"/><use href="#mo" x="1505.75" y="649.07"/><use href="#mo" x="1488.28" y="658.87"/><use href="#mo" x="1490.07" y="662.79"/><use href="#mo" x="1496.3" y="663.32"/><use href="#mo" x="1495.77" y="666"/><use href="#mo" x="1474.92" y="665.11"/><use href="#mo" x="1479.02" y="668.14"/><use href="#mo" x="1507.89" y="662.79"/><use href="#mo" x="1515.91" y="662.79"/><use href="#mo" x="1526.6" y="663.5"/><use href="#mo" x="1493.63" y="671.7"/><use href="#mo" x="1518.58" y="679.9"/><use href="#mo" x="1523.04" y="678.83"/><use href="#mo" x="1428.58" y="681.14"/><use href="#mo" x="1438.38" y="680.25"/><use href="#mo" x="1435.18" y="692.37"/><use href="#mo" x="1437.49" y="693.62"/><use href="#mo" x="1443.37" y="694.15"/><use href="#mo" x="1449.43" y="692.73"/><use href="#mo" x="1448.18" y="696.83"/><use href="#mo" x="1516.8" y="690.05"/><use href="#mo" x="1516.8" y="694.51"/><use href="#mo" x="1511.09" y="692.37"/><use href="#mo" x="1507.89" y="700.21"/><use href="#mo" x="1499.33" y="703.07"/><use href="#mo" x="1497.19" y="692.73"/><use href="#mo" x="1439.81" y="707.88"/><use href="#mo" x="1450.5" y="710.2"/><use href="#mo" x="1468.68" y="709.13"/><use href="#mo" x="1482.58" y="707.88"/><use href="#mo" x="1490.07" y="711.44"/><use href="#mo" x="1493.27" y="712.34"/><use href="#mo" x="1482.94" y="715.54"/><use href="#mo" x="1473.67" y="718.04"/><use href="#mo" x="1452.64" y="724.27"/><use href="#mo" x="1482.05" y="724.27"/></g>
<g class="so"><use href="#mx" x="1498.98" y="620.02"/><use href="#mx" x="1507" y="617.52"/><use href="#mx" x="1507.53" y="621.8"/><use href="#mx" x="1513.59" y="623.22"/><use href="#mx" x="1512.88" y="629.46"/><use href="#mx" x="1496.3" y="627.14"/><use href="#mx" x="1478.48" y="625.9"/><use href="#mx" x="1507.89" y="640.69"/><use href="#mx" x="1526.6" y="641.93"/><use href="#mx" x="1543.18" y="647.29"/><use href="#mx" x="1549.77" y="652.1"/><use href="#mx" x="1457.09" y="642.48"/><use href="#mx" x="1462.45" y="642.83"/><use href="#mx" x="1463.34" y="646.04"/><use href="#mx" x="1465.47" y="647.82"/><use href="#mx" x="1469.57" y="657.98"/><use href="#mx" x="1456.2" y="661.54"/><use href="#mx" x="1458.88" y="665.64"/><use href="#mx" x="1461.2" y="672.23"/><use href="#mx" x="1468.33" y="667.78"/><use href="#mx" x="1470.46" y="678.47"/><use href="#mx" x="1476.7" y="678.47"/><use href="#mx" x="1473.14" y="682.04"/><use href="#mx" x="1462.09" y="682.93"/><use href="#mx" x="1483.83" y="675.8"/><use href="#mx" x="1486.5" y="678.47"/><use href="#mx" x="1484.72" y="682.93"/><use href="#mx" x="1497.19" y="676.69"/><use href="#mx" x="1502.18" y="682.39"/><use href="#mx" x="1468.33" y="690.05"/><use href="#mx" x="1484.72" y="694.51"/><use href="#mx" x="1465.12" y="694.51"/><use href="#mx" x="1488.64" y="702"/><use href="#mx" x="1534.98" y="662.79"/></g>
<polyline points="1386.77,624.77 1431.85,666.71 1465.71,700.51 1479.49,702.53 1492.03,700.03 1503.31,685.48 1470.7,650.38 1498.26,647.11 1550.89,665.94 1588.73,671.7" fill="none" stroke="#000" stroke-width="3" stroke-linejoin="miter"/>
<path d="M1487.75,671.7 C1488.54,672.39 1491.76,674.37 1492.5,675.86 C1493.24,677.34 1492.7,679.12 1492.2,680.61 C1491.71,682.1 1491.05,683.36 1489.53,684.77 C1488.02,686.17 1486.65,689.02 1483.12,689.04 C1479.58,689.07 1471.76,686.18 1468.33,684.95 C1464.89,683.71 1464.86,684.39 1462.51,681.62 C1460.15,678.85 1455.84,671.91 1454.19,668.31 C1452.54,664.72 1452.3,663.77 1452.59,660.06 C1452.87,656.35 1454.81,649.76 1455.91,646.04 C1457.01,642.32 1457.26,641.04 1459.18,637.72 C1461.1,634.41 1465.1,628.89 1467.44,626.14 C1469.77,623.39 1469.88,623 1473.2,621.21 C1476.51,619.42 1484.98,616.36 1487.33,615.39" fill="none" stroke="#108540" stroke-width="4.5" stroke-dasharray="16.1 6.93"/>
<path d="M1487.75,671.7 C1486.96,671.01 1483.74,669.03 1483,667.54 C1482.26,666.06 1482.8,664.28 1483.3,662.79 C1483.79,661.31 1484.45,660.04 1485.97,658.63 C1487.48,657.23 1488.85,654.38 1492.38,654.36 C1495.92,654.33 1503.74,657.22 1507.17,658.45 C1510.61,659.69 1510.64,659.01 1512.99,661.78 C1515.35,664.55 1519.66,671.49 1521.31,675.09 C1522.96,678.68 1523.2,679.63 1522.91,683.34 C1522.63,687.05 1520.69,693.64 1519.59,697.36 C1518.49,701.08 1518.24,702.36 1516.32,705.68 C1514.4,708.99 1510.4,714.51 1508.06,717.26 C1505.73,720.01 1505.62,720.4 1502.3,722.19 C1498.99,723.98 1490.52,727.04 1488.17,728.01" fill="none" stroke="#108540" stroke-width="4.5" stroke-dasharray="16.1 6.93"/>
</g>
<rect x="1394.05" y="578" width="187.4" height="187.4" fill="none" stroke="#cccccc" stroke-width="1.25"/>
<text x="1428.35" y="786.9" font-size="14.8" text-anchor="middle">−1</text>
<text x="1384.05" y="736.8" font-size="14.8" text-anchor="end">−1</text>
<text x="1487.75" y="786.9" font-size="14.8" text-anchor="middle">0</text>
<text x="1384.05" y="677.4" font-size="14.8" text-anchor="end">0</text>
<text x="1547.15" y="786.9" font-size="14.8" text-anchor="middle">1</text>
<text x="1384.05" y="618" font-size="14.8" text-anchor="end">1</text>
<text x="1731.1" y="570.2" font-size="21.5" text-anchor="middle">Accuracy: 0.922</text>
<g clip-path="url(#k26)">
<rect x="1637.4" y="578" width="187.4" height="187.4" fill="#f9ba85"/>
<polygon points="1630.12,659.82 1666.53,671.46 1700.03,687.86 1720.88,699.56 1748.44,684.23 1747.85,681.2 1738.7,675.09 1720.41,668.49 1719.4,666.47 1719.87,650.67 1721.36,648.65 1737.22,640.04 1770.19,662.91 1792.1,675.98 1818.48,689.76 1832.08,708.53 1829.8,770.4 1632.4,770.4" fill="#8fabd3"/>
<path d="M1671.5,578V765.4M1637.4,671.5H1824.8M1790.5,578V765.4M1637.4,612.5H1824.8" stroke="#3c3c3c" stroke-opacity="0.12" stroke-width="1" fill="none"/>
<path d="M1672.5,578V765.4M1637.4,672.5H1824.8M1791.5,578V765.4M1637.4,611.5H1824.8" stroke="#d7d7d7" stroke-opacity="0.3" stroke-width="1" fill="none"/>
<path d="M1637.4,730.5H1824.8M1637.4,731.5H1824.8M1730.5,578V765.4M1731.5,578V765.4" stroke="#a0a0a0" stroke-opacity="0.22" stroke-width="1" fill="none"/>
<g class="sb"><use href="#mo" x="1722.72" y="651.39"/><use href="#mo" x="1733.42" y="649.6"/><use href="#mo" x="1740.19" y="651.74"/><use href="#mo" x="1749.1" y="649.07"/><use href="#mo" x="1731.63" y="658.87"/><use href="#mo" x="1733.42" y="662.79"/><use href="#mo" x="1739.65" y="663.32"/><use href="#mo" x="1739.12" y="666"/><use href="#mo" x="1718.27" y="665.11"/><use href="#mo" x="1722.37" y="668.14"/><use href="#mo" x="1751.24" y="662.79"/><use href="#mo" x="1759.26" y="662.79"/><use href="#mo" x="1769.95" y="663.5"/><use href="#mo" x="1736.98" y="671.7"/><use href="#mo" x="1761.93" y="679.9"/><use href="#mo" x="1766.39" y="678.83"/><use href="#mo" x="1671.93" y="681.14"/><use href="#mo" x="1681.73" y="680.25"/><use href="#mo" x="1678.53" y="692.37"/><use href="#mo" x="1680.84" y="693.62"/><use href="#mo" x="1686.72" y="694.15"/><use href="#mo" x="1692.78" y="692.73"/><use href="#mo" x="1691.53" y="696.83"/><use href="#mo" x="1760.15" y="690.05"/><use href="#mo" x="1760.15" y="694.51"/><use href="#mo" x="1754.44" y="692.37"/><use href="#mo" x="1751.24" y="700.21"/><use href="#mo" x="1742.68" y="703.07"/><use href="#mo" x="1740.54" y="692.73"/><use href="#mo" x="1683.16" y="707.88"/><use href="#mo" x="1693.85" y="710.2"/><use href="#mo" x="1712.03" y="709.13"/><use href="#mo" x="1725.93" y="707.88"/><use href="#mo" x="1733.42" y="711.44"/><use href="#mo" x="1736.62" y="712.34"/><use href="#mo" x="1726.29" y="715.54"/><use href="#mo" x="1717.02" y="718.04"/><use href="#mo" x="1695.99" y="724.27"/><use href="#mo" x="1725.4" y="724.27"/></g>
<g class="so"><use href="#mx" x="1742.33" y="620.02"/><use href="#mx" x="1750.35" y="617.52"/><use href="#mx" x="1750.88" y="621.8"/><use href="#mx" x="1756.94" y="623.22"/><use href="#mx" x="1756.23" y="629.46"/><use href="#mx" x="1739.65" y="627.14"/><use href="#mx" x="1721.83" y="625.9"/><use href="#mx" x="1751.24" y="640.69"/><use href="#mx" x="1769.95" y="641.93"/><use href="#mx" x="1786.53" y="647.29"/><use href="#mx" x="1793.12" y="652.1"/><use href="#mx" x="1700.44" y="642.48"/><use href="#mx" x="1705.8" y="642.83"/><use href="#mx" x="1706.69" y="646.04"/><use href="#mx" x="1708.82" y="647.82"/><use href="#mx" x="1712.92" y="657.98"/><use href="#mx" x="1699.55" y="661.54"/><use href="#mx" x="1702.23" y="665.64"/><use href="#mx" x="1704.55" y="672.23"/><use href="#mx" x="1711.68" y="667.78"/><use href="#mx" x="1713.81" y="678.47"/><use href="#mx" x="1720.05" y="678.47"/><use href="#mx" x="1716.49" y="682.04"/><use href="#mx" x="1705.44" y="682.93"/><use href="#mx" x="1727.18" y="675.8"/><use href="#mx" x="1729.85" y="678.47"/><use href="#mx" x="1728.07" y="682.93"/><use href="#mx" x="1740.54" y="676.69"/><use href="#mx" x="1745.53" y="682.39"/><use href="#mx" x="1711.68" y="690.05"/><use href="#mx" x="1728.07" y="694.51"/><use href="#mx" x="1708.47" y="694.51"/><use href="#mx" x="1731.99" y="702"/><use href="#mx" x="1778.33" y="662.79"/></g>
<polyline points="1630.12,659.82 1666.53,671.46 1700.03,687.86 1720.88,699.56 1748.44,684.23 1747.85,681.2 1738.7,675.09 1720.41,668.49 1719.4,666.47 1719.87,650.67 1721.36,648.65 1737.22,640.04 1770.19,662.91 1792.1,675.98 1818.48,689.76 1832.08,708.53" fill="none" stroke="#000" stroke-width="3" stroke-linejoin="miter"/>
<path d="M1731.1,671.7 C1731.89,672.39 1735.11,674.37 1735.85,675.86 C1736.59,677.34 1736.05,679.12 1735.55,680.61 C1735.06,682.1 1734.4,683.36 1732.88,684.77 C1731.37,686.17 1730,689.02 1726.47,689.04 C1722.93,689.07 1715.11,686.18 1711.68,684.95 C1708.24,683.71 1708.21,684.39 1705.86,681.62 C1703.5,678.85 1699.19,671.91 1697.54,668.31 C1695.89,664.72 1695.65,663.77 1695.94,660.06 C1696.22,656.35 1698.16,649.76 1699.26,646.04 C1700.36,642.32 1700.61,641.04 1702.53,637.72 C1704.45,634.41 1708.45,628.89 1710.79,626.14 C1713.12,623.39 1713.23,623 1716.55,621.21 C1719.86,619.42 1728.33,616.36 1730.68,615.39" fill="none" stroke="#108540" stroke-width="4.5" stroke-dasharray="16.1 6.93"/>
<path d="M1731.1,671.7 C1730.31,671.01 1727.09,669.03 1726.35,667.54 C1725.61,666.06 1726.15,664.28 1726.64,662.79 C1727.14,661.31 1727.8,660.04 1729.32,658.63 C1730.83,657.23 1732.2,654.38 1735.73,654.36 C1739.27,654.33 1747.09,657.22 1750.52,658.45 C1753.96,659.69 1753.99,659.01 1756.34,661.78 C1758.7,664.55 1763.01,671.49 1764.66,675.09 C1766.31,678.68 1766.55,679.63 1766.26,683.34 C1765.98,687.05 1764.04,693.64 1762.94,697.36 C1761.84,701.08 1761.59,702.36 1759.67,705.68 C1757.75,708.99 1753.75,714.51 1751.41,717.26 C1749.08,720.01 1748.97,720.4 1745.65,722.19 C1742.34,723.98 1733.87,727.04 1731.52,728.01" fill="none" stroke="#108540" stroke-width="4.5" stroke-dasharray="16.1 6.93"/>
</g>
<rect x="1637.4" y="578" width="187.4" height="187.4" fill="none" stroke="#cccccc" stroke-width="1.25"/>
<text x="1671.7" y="786.9" font-size="14.8" text-anchor="middle">−1</text>
<text x="1627.4" y="736.8" font-size="14.8" text-anchor="end">−1</text>
<text x="1731.1" y="786.9" font-size="14.8" text-anchor="middle">0</text>
<text x="1627.4" y="677.4" font-size="14.8" text-anchor="end">0</text>
<text x="1790.5" y="786.9" font-size="14.8" text-anchor="middle">1</text>
<text x="1627.4" y="618" font-size="14.8" text-anchor="end">1</text>
</svg></body></html>
